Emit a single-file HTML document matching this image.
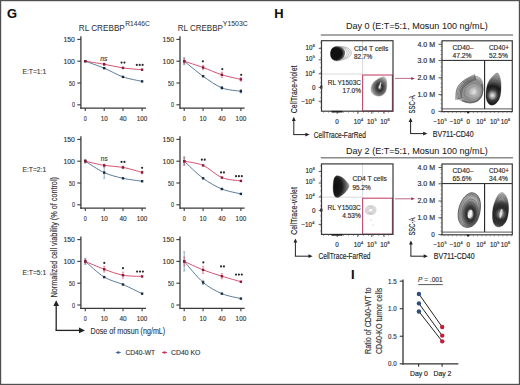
<!DOCTYPE html>
<html><head><meta charset="utf-8"><style>
html,body{margin:0;padding:0;background:#fff;}
body{width:520px;height:385px;overflow:hidden;}
svg{display:block;font-family:"Liberation Sans", sans-serif;}
</style></head><body>
<svg width="520" height="385" viewBox="0 0 520 385">
<rect x="0" y="0" width="520" height="385" fill="#fff"/>
<text x="7.00" y="17.60" font-size="12.9" text-anchor="start" fill="#111" stroke="#111" stroke-width="0.12" font-weight="bold" >G</text>
<text x="78.80" y="30.70" font-size="9.4" text-anchor="start" fill="#333" stroke="#333" stroke-width="0.05" font-weight="normal" textLength="46.00" lengthAdjust="spacingAndGlyphs" >RL CREBBP</text>
<text x="125.30" y="26.40" font-size="7.2" text-anchor="start" fill="#333" stroke="#333" stroke-width="0.05" font-weight="normal" textLength="24.50" lengthAdjust="spacingAndGlyphs" >R1446C</text>
<text x="177.80" y="30.50" font-size="9.4" text-anchor="start" fill="#333" stroke="#333" stroke-width="0.05" font-weight="normal" textLength="45.00" lengthAdjust="spacingAndGlyphs" >RL CREBBP</text>
<text x="222.80" y="26.40" font-size="7.2" text-anchor="start" fill="#333" stroke="#333" stroke-width="0.05" font-weight="normal" textLength="25.00" lengthAdjust="spacingAndGlyphs" >Y1503C</text>
<line x1="80.90" y1="36.30" x2="80.90" y2="108.70" stroke="#3a3a3a" stroke-width="1.3" />
<line x1="80.30" y1="108.10" x2="146.00" y2="108.10" stroke="#3a3a3a" stroke-width="1.3" />
<line x1="77.30" y1="104.80" x2="80.90" y2="104.80" stroke="#3a3a3a" stroke-width="1.1" />
<text x="74.90" y="107.30" font-size="7" text-anchor="end" fill="#2e2e2e" stroke="#2e2e2e" stroke-width="0.12" font-weight="normal" textLength="3.00" lengthAdjust="spacingAndGlyphs" >0</text>
<line x1="77.30" y1="83.00" x2="80.90" y2="83.00" stroke="#3a3a3a" stroke-width="1.1" />
<text x="74.90" y="85.50" font-size="7" text-anchor="end" fill="#2e2e2e" stroke="#2e2e2e" stroke-width="0.12" font-weight="normal" textLength="5.90" lengthAdjust="spacingAndGlyphs" >50</text>
<line x1="77.30" y1="61.20" x2="80.90" y2="61.20" stroke="#3a3a3a" stroke-width="1.1" />
<text x="74.90" y="63.70" font-size="7" text-anchor="end" fill="#2e2e2e" stroke="#2e2e2e" stroke-width="0.12" font-weight="normal" textLength="11.40" lengthAdjust="spacingAndGlyphs" >100</text>
<line x1="77.30" y1="39.40" x2="80.90" y2="39.40" stroke="#3a3a3a" stroke-width="1.1" />
<text x="74.90" y="41.90" font-size="7" text-anchor="end" fill="#2e2e2e" stroke="#2e2e2e" stroke-width="0.12" font-weight="normal" textLength="11.40" lengthAdjust="spacingAndGlyphs" >150</text>
<line x1="85.30" y1="108.10" x2="85.30" y2="111.10" stroke="#3a3a3a" stroke-width="1.1" />
<text x="85.30" y="120.80" font-size="7" text-anchor="middle" fill="#2e2e2e" stroke="#2e2e2e" stroke-width="0.12" font-weight="normal" textLength="3.00" lengthAdjust="spacingAndGlyphs" >0</text>
<line x1="104.20" y1="108.10" x2="104.20" y2="111.10" stroke="#3a3a3a" stroke-width="1.1" />
<text x="104.20" y="120.80" font-size="7" text-anchor="middle" fill="#2e2e2e" stroke="#2e2e2e" stroke-width="0.12" font-weight="normal" textLength="7.00" lengthAdjust="spacingAndGlyphs" >10</text>
<line x1="123.00" y1="108.10" x2="123.00" y2="111.10" stroke="#3a3a3a" stroke-width="1.1" />
<text x="123.00" y="120.80" font-size="7" text-anchor="middle" fill="#2e2e2e" stroke="#2e2e2e" stroke-width="0.12" font-weight="normal" textLength="7.20" lengthAdjust="spacingAndGlyphs" >40</text>
<line x1="142.10" y1="108.10" x2="142.10" y2="111.10" stroke="#3a3a3a" stroke-width="1.1" />
<text x="142.10" y="120.80" font-size="7" text-anchor="middle" fill="#2e2e2e" stroke="#2e2e2e" stroke-width="0.12" font-weight="normal" textLength="10.60" lengthAdjust="spacingAndGlyphs" >100</text>
<path d="M85.30,61.20 C88.32,62.32 98.17,65.66 104.20,68.18 C110.23,70.69 116.94,74.78 123.00,76.90 C129.06,79.01 139.04,80.67 142.10,81.39" fill="none" stroke="#3f6688" stroke-width="0.85"/>
<rect x="84.10" y="60.00" width="2.4" height="2.4" fill="#1a2c40"/>
<rect x="103.00" y="66.98" width="2.4" height="2.4" fill="#1a2c40"/>
<rect x="121.80" y="75.70" width="2.4" height="2.4" fill="#1a2c40"/>
<rect x="140.90" y="80.19" width="2.4" height="2.4" fill="#1a2c40"/>
<path d="M85.30,61.20 C88.32,61.69 98.17,63.18 104.20,64.25 C110.23,65.33 116.94,67.04 123.00,67.91 C129.06,68.79 139.04,69.42 142.10,69.70" fill="none" stroke="#cc3358" stroke-width="0.85"/>
<rect x="84.10" y="60.00" width="2.4" height="2.4" fill="#8a1836"/>
<line x1="104.20" y1="62.94" x2="104.20" y2="65.56" stroke="#cc3358" stroke-width="0.8" stroke-opacity="0.7"/>
<line x1="103.10" y1="62.94" x2="105.30" y2="62.94" stroke="#cc3358" stroke-width="0.6" stroke-opacity="0.7"/>
<line x1="103.10" y1="65.56" x2="105.30" y2="65.56" stroke="#cc3358" stroke-width="0.6" stroke-opacity="0.7"/>
<rect x="103.00" y="63.05" width="2.4" height="2.4" fill="#8a1836"/>
<rect x="121.80" y="66.71" width="2.4" height="2.4" fill="#8a1836"/>
<rect x="140.90" y="68.50" width="2.4" height="2.4" fill="#8a1836"/>
<text x="100.30" y="60.50" font-size="7.2" text-anchor="start" fill="#333" stroke="#333" stroke-width="0.12" font-weight="normal" textLength="7.20" lengthAdjust="spacingAndGlyphs" font-style="italic">ns</text>
<circle cx="121.55" cy="62.60" r="1.08" fill="#2a2a2a"/>
<circle cx="124.45" cy="62.60" r="1.08" fill="#2a2a2a"/>
<circle cx="136.80" cy="64.90" r="1.08" fill="#2a2a2a"/>
<circle cx="139.70" cy="64.90" r="1.08" fill="#2a2a2a"/>
<circle cx="142.60" cy="64.90" r="1.08" fill="#2a2a2a"/>
<line x1="180.00" y1="36.30" x2="180.00" y2="108.70" stroke="#3a3a3a" stroke-width="1.3" />
<line x1="179.40" y1="108.10" x2="244.60" y2="108.10" stroke="#3a3a3a" stroke-width="1.3" />
<line x1="176.40" y1="104.80" x2="180.00" y2="104.80" stroke="#3a3a3a" stroke-width="1.1" />
<text x="174.00" y="107.30" font-size="7" text-anchor="end" fill="#2e2e2e" stroke="#2e2e2e" stroke-width="0.12" font-weight="normal" textLength="3.00" lengthAdjust="spacingAndGlyphs" >0</text>
<line x1="176.40" y1="83.00" x2="180.00" y2="83.00" stroke="#3a3a3a" stroke-width="1.1" />
<text x="174.00" y="85.50" font-size="7" text-anchor="end" fill="#2e2e2e" stroke="#2e2e2e" stroke-width="0.12" font-weight="normal" textLength="5.90" lengthAdjust="spacingAndGlyphs" >50</text>
<line x1="176.40" y1="61.20" x2="180.00" y2="61.20" stroke="#3a3a3a" stroke-width="1.1" />
<text x="174.00" y="63.70" font-size="7" text-anchor="end" fill="#2e2e2e" stroke="#2e2e2e" stroke-width="0.12" font-weight="normal" textLength="11.40" lengthAdjust="spacingAndGlyphs" >100</text>
<line x1="176.40" y1="39.40" x2="180.00" y2="39.40" stroke="#3a3a3a" stroke-width="1.1" />
<text x="174.00" y="41.90" font-size="7" text-anchor="end" fill="#2e2e2e" stroke="#2e2e2e" stroke-width="0.12" font-weight="normal" textLength="11.40" lengthAdjust="spacingAndGlyphs" >150</text>
<line x1="184.20" y1="108.10" x2="184.20" y2="111.10" stroke="#3a3a3a" stroke-width="1.1" />
<text x="184.20" y="120.80" font-size="7" text-anchor="middle" fill="#2e2e2e" stroke="#2e2e2e" stroke-width="0.12" font-weight="normal" textLength="3.00" lengthAdjust="spacingAndGlyphs" >0</text>
<line x1="203.10" y1="108.10" x2="203.10" y2="111.10" stroke="#3a3a3a" stroke-width="1.1" />
<text x="203.10" y="120.80" font-size="7" text-anchor="middle" fill="#2e2e2e" stroke="#2e2e2e" stroke-width="0.12" font-weight="normal" textLength="7.00" lengthAdjust="spacingAndGlyphs" >10</text>
<line x1="221.90" y1="108.10" x2="221.90" y2="111.10" stroke="#3a3a3a" stroke-width="1.1" />
<text x="221.90" y="120.80" font-size="7" text-anchor="middle" fill="#2e2e2e" stroke="#2e2e2e" stroke-width="0.12" font-weight="normal" textLength="7.20" lengthAdjust="spacingAndGlyphs" >40</text>
<line x1="240.90" y1="108.10" x2="240.90" y2="111.10" stroke="#3a3a3a" stroke-width="1.1" />
<text x="240.90" y="120.80" font-size="7" text-anchor="middle" fill="#2e2e2e" stroke="#2e2e2e" stroke-width="0.12" font-weight="normal" textLength="10.60" lengthAdjust="spacingAndGlyphs" >100</text>
<path d="M184.20,61.20 C187.22,63.60 197.07,71.93 203.10,76.20 C209.13,80.47 215.85,85.47 221.90,87.88 C227.95,90.30 237.86,90.74 240.90,91.28" fill="none" stroke="#3f6688" stroke-width="0.85"/>
<line x1="184.20" y1="57.71" x2="184.20" y2="64.69" stroke="#3f6688" stroke-width="0.8" stroke-opacity="0.7"/>
<line x1="183.10" y1="57.71" x2="185.30" y2="57.71" stroke="#3f6688" stroke-width="0.6" stroke-opacity="0.7"/>
<line x1="183.10" y1="64.69" x2="185.30" y2="64.69" stroke="#3f6688" stroke-width="0.6" stroke-opacity="0.7"/>
<rect x="183.00" y="60.00" width="2.4" height="2.4" fill="#1a2c40"/>
<rect x="201.90" y="75.00" width="2.4" height="2.4" fill="#1a2c40"/>
<line x1="221.90" y1="86.58" x2="221.90" y2="89.19" stroke="#3f6688" stroke-width="0.8" stroke-opacity="0.7"/>
<line x1="220.80" y1="86.58" x2="223.00" y2="86.58" stroke="#3f6688" stroke-width="0.6" stroke-opacity="0.7"/>
<line x1="220.80" y1="89.19" x2="223.00" y2="89.19" stroke="#3f6688" stroke-width="0.6" stroke-opacity="0.7"/>
<rect x="220.70" y="86.68" width="2.4" height="2.4" fill="#1a2c40"/>
<line x1="240.90" y1="89.54" x2="240.90" y2="93.03" stroke="#3f6688" stroke-width="0.8" stroke-opacity="0.7"/>
<line x1="239.80" y1="89.54" x2="242.00" y2="89.54" stroke="#3f6688" stroke-width="0.6" stroke-opacity="0.7"/>
<line x1="239.80" y1="93.03" x2="242.00" y2="93.03" stroke="#3f6688" stroke-width="0.6" stroke-opacity="0.7"/>
<rect x="239.70" y="90.08" width="2.4" height="2.4" fill="#1a2c40"/>
<path d="M184.20,61.20 C187.22,62.21 197.07,65.35 203.10,67.52 C209.13,69.70 215.85,72.91 221.90,74.80 C227.95,76.70 237.86,78.65 240.90,79.38" fill="none" stroke="#cc3358" stroke-width="0.85"/>
<line x1="184.20" y1="58.58" x2="184.20" y2="63.82" stroke="#cc3358" stroke-width="0.8" stroke-opacity="0.7"/>
<line x1="183.10" y1="58.58" x2="185.30" y2="58.58" stroke="#cc3358" stroke-width="0.6" stroke-opacity="0.7"/>
<line x1="183.10" y1="63.82" x2="185.30" y2="63.82" stroke="#cc3358" stroke-width="0.6" stroke-opacity="0.7"/>
<rect x="183.00" y="60.00" width="2.4" height="2.4" fill="#8a1836"/>
<line x1="203.10" y1="65.34" x2="203.10" y2="69.70" stroke="#cc3358" stroke-width="0.8" stroke-opacity="0.7"/>
<line x1="202.00" y1="65.34" x2="204.20" y2="65.34" stroke="#cc3358" stroke-width="0.6" stroke-opacity="0.7"/>
<line x1="202.00" y1="69.70" x2="204.20" y2="69.70" stroke="#cc3358" stroke-width="0.6" stroke-opacity="0.7"/>
<rect x="201.90" y="66.32" width="2.4" height="2.4" fill="#8a1836"/>
<line x1="221.90" y1="72.19" x2="221.90" y2="77.42" stroke="#cc3358" stroke-width="0.8" stroke-opacity="0.7"/>
<line x1="220.80" y1="72.19" x2="223.00" y2="72.19" stroke="#cc3358" stroke-width="0.6" stroke-opacity="0.7"/>
<line x1="220.80" y1="77.42" x2="223.00" y2="77.42" stroke="#cc3358" stroke-width="0.6" stroke-opacity="0.7"/>
<rect x="220.70" y="73.60" width="2.4" height="2.4" fill="#8a1836"/>
<line x1="240.90" y1="77.64" x2="240.90" y2="81.13" stroke="#cc3358" stroke-width="0.8" stroke-opacity="0.7"/>
<line x1="239.80" y1="77.64" x2="242.00" y2="77.64" stroke="#cc3358" stroke-width="0.6" stroke-opacity="0.7"/>
<line x1="239.80" y1="81.13" x2="242.00" y2="81.13" stroke="#cc3358" stroke-width="0.6" stroke-opacity="0.7"/>
<rect x="239.70" y="78.18" width="2.4" height="2.4" fill="#8a1836"/>
<circle cx="202.90" cy="61.30" r="1.08" fill="#2a2a2a"/>
<circle cx="222.30" cy="69.10" r="1.08" fill="#2a2a2a"/>
<circle cx="241.20" cy="74.80" r="1.08" fill="#2a2a2a"/>
<line x1="80.90" y1="136.30" x2="80.90" y2="208.70" stroke="#3a3a3a" stroke-width="1.3" />
<line x1="80.30" y1="208.10" x2="146.00" y2="208.10" stroke="#3a3a3a" stroke-width="1.3" />
<line x1="77.30" y1="204.80" x2="80.90" y2="204.80" stroke="#3a3a3a" stroke-width="1.1" />
<text x="74.90" y="207.30" font-size="7" text-anchor="end" fill="#2e2e2e" stroke="#2e2e2e" stroke-width="0.12" font-weight="normal" textLength="3.00" lengthAdjust="spacingAndGlyphs" >0</text>
<line x1="77.30" y1="183.00" x2="80.90" y2="183.00" stroke="#3a3a3a" stroke-width="1.1" />
<text x="74.90" y="185.50" font-size="7" text-anchor="end" fill="#2e2e2e" stroke="#2e2e2e" stroke-width="0.12" font-weight="normal" textLength="5.90" lengthAdjust="spacingAndGlyphs" >50</text>
<line x1="77.30" y1="161.20" x2="80.90" y2="161.20" stroke="#3a3a3a" stroke-width="1.1" />
<text x="74.90" y="163.70" font-size="7" text-anchor="end" fill="#2e2e2e" stroke="#2e2e2e" stroke-width="0.12" font-weight="normal" textLength="11.40" lengthAdjust="spacingAndGlyphs" >100</text>
<line x1="77.30" y1="139.40" x2="80.90" y2="139.40" stroke="#3a3a3a" stroke-width="1.1" />
<text x="74.90" y="141.90" font-size="7" text-anchor="end" fill="#2e2e2e" stroke="#2e2e2e" stroke-width="0.12" font-weight="normal" textLength="11.40" lengthAdjust="spacingAndGlyphs" >150</text>
<line x1="85.30" y1="208.10" x2="85.30" y2="211.10" stroke="#3a3a3a" stroke-width="1.1" />
<text x="85.30" y="220.80" font-size="7" text-anchor="middle" fill="#2e2e2e" stroke="#2e2e2e" stroke-width="0.12" font-weight="normal" textLength="3.00" lengthAdjust="spacingAndGlyphs" >0</text>
<line x1="104.20" y1="208.10" x2="104.20" y2="211.10" stroke="#3a3a3a" stroke-width="1.1" />
<text x="104.20" y="220.80" font-size="7" text-anchor="middle" fill="#2e2e2e" stroke="#2e2e2e" stroke-width="0.12" font-weight="normal" textLength="7.00" lengthAdjust="spacingAndGlyphs" >10</text>
<line x1="123.00" y1="208.10" x2="123.00" y2="211.10" stroke="#3a3a3a" stroke-width="1.1" />
<text x="123.00" y="220.80" font-size="7" text-anchor="middle" fill="#2e2e2e" stroke="#2e2e2e" stroke-width="0.12" font-weight="normal" textLength="7.20" lengthAdjust="spacingAndGlyphs" >40</text>
<line x1="142.10" y1="208.10" x2="142.10" y2="211.10" stroke="#3a3a3a" stroke-width="1.1" />
<text x="142.10" y="220.80" font-size="7" text-anchor="middle" fill="#2e2e2e" stroke="#2e2e2e" stroke-width="0.12" font-weight="normal" textLength="10.60" lengthAdjust="spacingAndGlyphs" >100</text>
<path d="M85.30,161.20 C88.32,163.03 98.17,169.89 104.20,172.62 C110.23,175.36 116.94,176.92 123.00,178.29 C129.06,179.67 139.04,180.75 142.10,181.21" fill="none" stroke="#3f6688" stroke-width="0.85"/>
<line x1="85.30" y1="159.46" x2="85.30" y2="162.94" stroke="#3f6688" stroke-width="0.8" stroke-opacity="0.7"/>
<line x1="84.20" y1="159.46" x2="86.40" y2="159.46" stroke="#3f6688" stroke-width="0.6" stroke-opacity="0.7"/>
<line x1="84.20" y1="162.94" x2="86.40" y2="162.94" stroke="#3f6688" stroke-width="0.6" stroke-opacity="0.7"/>
<rect x="84.10" y="160.00" width="2.4" height="2.4" fill="#1a2c40"/>
<line x1="104.20" y1="166.96" x2="104.20" y2="178.29" stroke="#3f6688" stroke-width="0.8" stroke-opacity="0.7"/>
<line x1="103.10" y1="166.96" x2="105.30" y2="166.96" stroke="#3f6688" stroke-width="0.6" stroke-opacity="0.7"/>
<line x1="103.10" y1="178.29" x2="105.30" y2="178.29" stroke="#3f6688" stroke-width="0.6" stroke-opacity="0.7"/>
<rect x="103.00" y="171.42" width="2.4" height="2.4" fill="#1a2c40"/>
<rect x="121.80" y="177.09" width="2.4" height="2.4" fill="#1a2c40"/>
<rect x="140.90" y="180.01" width="2.4" height="2.4" fill="#1a2c40"/>
<path d="M85.30,161.20 C88.32,161.87 98.17,164.40 104.20,165.39 C110.23,166.38 116.94,166.27 123.00,167.39 C129.06,168.51 139.04,171.60 142.10,172.41" fill="none" stroke="#cc3358" stroke-width="0.85"/>
<line x1="85.30" y1="159.46" x2="85.30" y2="162.94" stroke="#cc3358" stroke-width="0.8" stroke-opacity="0.7"/>
<line x1="84.20" y1="159.46" x2="86.40" y2="159.46" stroke="#cc3358" stroke-width="0.6" stroke-opacity="0.7"/>
<line x1="84.20" y1="162.94" x2="86.40" y2="162.94" stroke="#cc3358" stroke-width="0.6" stroke-opacity="0.7"/>
<rect x="84.10" y="160.00" width="2.4" height="2.4" fill="#8a1836"/>
<line x1="104.20" y1="164.08" x2="104.20" y2="166.69" stroke="#cc3358" stroke-width="0.8" stroke-opacity="0.7"/>
<line x1="103.10" y1="164.08" x2="105.30" y2="164.08" stroke="#cc3358" stroke-width="0.6" stroke-opacity="0.7"/>
<line x1="103.10" y1="166.69" x2="105.30" y2="166.69" stroke="#cc3358" stroke-width="0.6" stroke-opacity="0.7"/>
<rect x="103.00" y="164.19" width="2.4" height="2.4" fill="#8a1836"/>
<line x1="123.00" y1="166.08" x2="123.00" y2="168.70" stroke="#cc3358" stroke-width="0.8" stroke-opacity="0.7"/>
<line x1="121.90" y1="166.08" x2="124.10" y2="166.08" stroke="#cc3358" stroke-width="0.6" stroke-opacity="0.7"/>
<line x1="121.90" y1="168.70" x2="124.10" y2="168.70" stroke="#cc3358" stroke-width="0.6" stroke-opacity="0.7"/>
<rect x="121.80" y="166.19" width="2.4" height="2.4" fill="#8a1836"/>
<line x1="142.10" y1="171.10" x2="142.10" y2="173.71" stroke="#cc3358" stroke-width="0.8" stroke-opacity="0.7"/>
<line x1="141.00" y1="171.10" x2="143.20" y2="171.10" stroke="#cc3358" stroke-width="0.6" stroke-opacity="0.7"/>
<line x1="141.00" y1="173.71" x2="143.20" y2="173.71" stroke="#cc3358" stroke-width="0.6" stroke-opacity="0.7"/>
<rect x="140.90" y="171.21" width="2.4" height="2.4" fill="#8a1836"/>
<text x="100.80" y="160.80" font-size="7.2" text-anchor="start" fill="#333" stroke="#333" stroke-width="0.12" font-weight="normal" textLength="6.90" lengthAdjust="spacingAndGlyphs" >ns</text>
<circle cx="121.55" cy="161.90" r="1.08" fill="#2a2a2a"/>
<circle cx="124.45" cy="161.90" r="1.08" fill="#2a2a2a"/>
<circle cx="142.10" cy="167.80" r="1.08" fill="#2a2a2a"/>
<line x1="180.00" y1="136.30" x2="180.00" y2="208.70" stroke="#3a3a3a" stroke-width="1.3" />
<line x1="179.40" y1="208.10" x2="244.60" y2="208.10" stroke="#3a3a3a" stroke-width="1.3" />
<line x1="176.40" y1="204.80" x2="180.00" y2="204.80" stroke="#3a3a3a" stroke-width="1.1" />
<text x="174.00" y="207.30" font-size="7" text-anchor="end" fill="#2e2e2e" stroke="#2e2e2e" stroke-width="0.12" font-weight="normal" textLength="3.00" lengthAdjust="spacingAndGlyphs" >0</text>
<line x1="176.40" y1="183.00" x2="180.00" y2="183.00" stroke="#3a3a3a" stroke-width="1.1" />
<text x="174.00" y="185.50" font-size="7" text-anchor="end" fill="#2e2e2e" stroke="#2e2e2e" stroke-width="0.12" font-weight="normal" textLength="5.90" lengthAdjust="spacingAndGlyphs" >50</text>
<line x1="176.40" y1="161.20" x2="180.00" y2="161.20" stroke="#3a3a3a" stroke-width="1.1" />
<text x="174.00" y="163.70" font-size="7" text-anchor="end" fill="#2e2e2e" stroke="#2e2e2e" stroke-width="0.12" font-weight="normal" textLength="11.40" lengthAdjust="spacingAndGlyphs" >100</text>
<line x1="176.40" y1="139.40" x2="180.00" y2="139.40" stroke="#3a3a3a" stroke-width="1.1" />
<text x="174.00" y="141.90" font-size="7" text-anchor="end" fill="#2e2e2e" stroke="#2e2e2e" stroke-width="0.12" font-weight="normal" textLength="11.40" lengthAdjust="spacingAndGlyphs" >150</text>
<line x1="184.20" y1="208.10" x2="184.20" y2="211.10" stroke="#3a3a3a" stroke-width="1.1" />
<text x="184.20" y="220.80" font-size="7" text-anchor="middle" fill="#2e2e2e" stroke="#2e2e2e" stroke-width="0.12" font-weight="normal" textLength="3.00" lengthAdjust="spacingAndGlyphs" >0</text>
<line x1="203.10" y1="208.10" x2="203.10" y2="211.10" stroke="#3a3a3a" stroke-width="1.1" />
<text x="203.10" y="220.80" font-size="7" text-anchor="middle" fill="#2e2e2e" stroke="#2e2e2e" stroke-width="0.12" font-weight="normal" textLength="7.00" lengthAdjust="spacingAndGlyphs" >10</text>
<line x1="221.90" y1="208.10" x2="221.90" y2="211.10" stroke="#3a3a3a" stroke-width="1.1" />
<text x="221.90" y="220.80" font-size="7" text-anchor="middle" fill="#2e2e2e" stroke="#2e2e2e" stroke-width="0.12" font-weight="normal" textLength="7.20" lengthAdjust="spacingAndGlyphs" >40</text>
<line x1="240.90" y1="208.10" x2="240.90" y2="211.10" stroke="#3a3a3a" stroke-width="1.1" />
<text x="240.90" y="220.80" font-size="7" text-anchor="middle" fill="#2e2e2e" stroke="#2e2e2e" stroke-width="0.12" font-weight="normal" textLength="10.60" lengthAdjust="spacingAndGlyphs" >100</text>
<path d="M184.20,161.20 C187.22,163.93 197.07,173.84 203.10,178.29 C209.13,182.74 215.85,186.52 221.90,189.02 C227.95,191.51 237.86,193.12 240.90,193.90" fill="none" stroke="#3f6688" stroke-width="0.85"/>
<line x1="184.20" y1="156.84" x2="184.20" y2="165.56" stroke="#3f6688" stroke-width="0.8" stroke-opacity="0.7"/>
<line x1="183.10" y1="156.84" x2="185.30" y2="156.84" stroke="#3f6688" stroke-width="0.6" stroke-opacity="0.7"/>
<line x1="183.10" y1="165.56" x2="185.30" y2="165.56" stroke="#3f6688" stroke-width="0.6" stroke-opacity="0.7"/>
<rect x="183.00" y="160.00" width="2.4" height="2.4" fill="#1a2c40"/>
<rect x="201.90" y="177.09" width="2.4" height="2.4" fill="#1a2c40"/>
<rect x="220.70" y="187.82" width="2.4" height="2.4" fill="#1a2c40"/>
<rect x="239.70" y="192.70" width="2.4" height="2.4" fill="#1a2c40"/>
<path d="M184.20,161.20 C187.22,161.87 197.07,162.76 203.10,165.39 C209.13,168.01 215.85,175.11 221.90,177.59 C227.95,180.08 237.86,180.38 240.90,180.91" fill="none" stroke="#cc3358" stroke-width="0.85"/>
<line x1="184.20" y1="157.71" x2="184.20" y2="164.69" stroke="#cc3358" stroke-width="0.8" stroke-opacity="0.7"/>
<line x1="183.10" y1="157.71" x2="185.30" y2="157.71" stroke="#cc3358" stroke-width="0.6" stroke-opacity="0.7"/>
<line x1="183.10" y1="164.69" x2="185.30" y2="164.69" stroke="#cc3358" stroke-width="0.6" stroke-opacity="0.7"/>
<rect x="183.00" y="160.00" width="2.4" height="2.4" fill="#8a1836"/>
<rect x="201.90" y="164.19" width="2.4" height="2.4" fill="#8a1836"/>
<rect x="220.70" y="176.39" width="2.4" height="2.4" fill="#8a1836"/>
<rect x="239.70" y="179.71" width="2.4" height="2.4" fill="#8a1836"/>
<circle cx="201.85" cy="159.70" r="1.08" fill="#2a2a2a"/>
<circle cx="204.75" cy="159.70" r="1.08" fill="#2a2a2a"/>
<circle cx="221.05" cy="172.40" r="1.08" fill="#2a2a2a"/>
<circle cx="223.95" cy="172.40" r="1.08" fill="#2a2a2a"/>
<circle cx="236.00" cy="176.20" r="1.08" fill="#2a2a2a"/>
<circle cx="238.90" cy="176.20" r="1.08" fill="#2a2a2a"/>
<circle cx="241.80" cy="176.20" r="1.08" fill="#2a2a2a"/>
<line x1="80.90" y1="236.50" x2="80.90" y2="308.90" stroke="#3a3a3a" stroke-width="1.3" />
<line x1="80.30" y1="308.30" x2="146.00" y2="308.30" stroke="#3a3a3a" stroke-width="1.3" />
<line x1="77.30" y1="305.00" x2="80.90" y2="305.00" stroke="#3a3a3a" stroke-width="1.1" />
<text x="74.90" y="307.50" font-size="7" text-anchor="end" fill="#2e2e2e" stroke="#2e2e2e" stroke-width="0.12" font-weight="normal" textLength="3.00" lengthAdjust="spacingAndGlyphs" >0</text>
<line x1="77.30" y1="283.20" x2="80.90" y2="283.20" stroke="#3a3a3a" stroke-width="1.1" />
<text x="74.90" y="285.70" font-size="7" text-anchor="end" fill="#2e2e2e" stroke="#2e2e2e" stroke-width="0.12" font-weight="normal" textLength="5.90" lengthAdjust="spacingAndGlyphs" >50</text>
<line x1="77.30" y1="261.40" x2="80.90" y2="261.40" stroke="#3a3a3a" stroke-width="1.1" />
<text x="74.90" y="263.90" font-size="7" text-anchor="end" fill="#2e2e2e" stroke="#2e2e2e" stroke-width="0.12" font-weight="normal" textLength="11.40" lengthAdjust="spacingAndGlyphs" >100</text>
<line x1="77.30" y1="239.60" x2="80.90" y2="239.60" stroke="#3a3a3a" stroke-width="1.1" />
<text x="74.90" y="242.10" font-size="7" text-anchor="end" fill="#2e2e2e" stroke="#2e2e2e" stroke-width="0.12" font-weight="normal" textLength="11.40" lengthAdjust="spacingAndGlyphs" >150</text>
<line x1="85.30" y1="308.30" x2="85.30" y2="311.30" stroke="#3a3a3a" stroke-width="1.1" />
<text x="85.30" y="321.00" font-size="7" text-anchor="middle" fill="#2e2e2e" stroke="#2e2e2e" stroke-width="0.12" font-weight="normal" textLength="3.00" lengthAdjust="spacingAndGlyphs" >0</text>
<line x1="104.20" y1="308.30" x2="104.20" y2="311.30" stroke="#3a3a3a" stroke-width="1.1" />
<text x="104.20" y="321.00" font-size="7" text-anchor="middle" fill="#2e2e2e" stroke="#2e2e2e" stroke-width="0.12" font-weight="normal" textLength="7.00" lengthAdjust="spacingAndGlyphs" >10</text>
<line x1="123.00" y1="308.30" x2="123.00" y2="311.30" stroke="#3a3a3a" stroke-width="1.1" />
<text x="123.00" y="321.00" font-size="7" text-anchor="middle" fill="#2e2e2e" stroke="#2e2e2e" stroke-width="0.12" font-weight="normal" textLength="7.20" lengthAdjust="spacingAndGlyphs" >40</text>
<line x1="142.10" y1="308.30" x2="142.10" y2="311.30" stroke="#3a3a3a" stroke-width="1.1" />
<text x="142.10" y="321.00" font-size="7" text-anchor="middle" fill="#2e2e2e" stroke="#2e2e2e" stroke-width="0.12" font-weight="normal" textLength="10.60" lengthAdjust="spacingAndGlyphs" >100</text>
<path d="M85.30,261.40 C88.32,263.91 98.17,273.40 104.20,277.10 C110.23,280.79 116.94,281.86 123.00,284.51 C129.06,287.16 139.04,292.20 142.10,293.66" fill="none" stroke="#3f6688" stroke-width="0.85"/>
<line x1="85.30" y1="258.35" x2="85.30" y2="264.45" stroke="#3f6688" stroke-width="0.8" stroke-opacity="0.7"/>
<line x1="84.20" y1="258.35" x2="86.40" y2="258.35" stroke="#3f6688" stroke-width="0.6" stroke-opacity="0.7"/>
<line x1="84.20" y1="264.45" x2="86.40" y2="264.45" stroke="#3f6688" stroke-width="0.6" stroke-opacity="0.7"/>
<rect x="84.10" y="260.20" width="2.4" height="2.4" fill="#1a2c40"/>
<rect x="103.00" y="275.90" width="2.4" height="2.4" fill="#1a2c40"/>
<rect x="121.80" y="283.31" width="2.4" height="2.4" fill="#1a2c40"/>
<rect x="140.90" y="292.46" width="2.4" height="2.4" fill="#1a2c40"/>
<path d="M85.30,261.40 C88.32,262.66 98.17,267.04 104.20,269.25 C110.23,271.46 116.94,274.07 123.00,275.22 C129.06,276.37 139.04,276.25 142.10,276.44" fill="none" stroke="#cc3358" stroke-width="0.85"/>
<line x1="85.30" y1="259.22" x2="85.30" y2="263.58" stroke="#cc3358" stroke-width="0.8" stroke-opacity="0.7"/>
<line x1="84.20" y1="259.22" x2="86.40" y2="259.22" stroke="#cc3358" stroke-width="0.6" stroke-opacity="0.7"/>
<line x1="84.20" y1="263.58" x2="86.40" y2="263.58" stroke="#cc3358" stroke-width="0.6" stroke-opacity="0.7"/>
<rect x="84.10" y="260.20" width="2.4" height="2.4" fill="#8a1836"/>
<line x1="104.20" y1="266.41" x2="104.20" y2="272.08" stroke="#cc3358" stroke-width="0.8" stroke-opacity="0.7"/>
<line x1="103.10" y1="266.41" x2="105.30" y2="266.41" stroke="#cc3358" stroke-width="0.6" stroke-opacity="0.7"/>
<line x1="103.10" y1="272.08" x2="105.30" y2="272.08" stroke="#cc3358" stroke-width="0.6" stroke-opacity="0.7"/>
<rect x="103.00" y="268.05" width="2.4" height="2.4" fill="#8a1836"/>
<line x1="123.00" y1="272.17" x2="123.00" y2="278.27" stroke="#cc3358" stroke-width="0.8" stroke-opacity="0.7"/>
<line x1="121.90" y1="272.17" x2="124.10" y2="272.17" stroke="#cc3358" stroke-width="0.6" stroke-opacity="0.7"/>
<line x1="121.90" y1="278.27" x2="124.10" y2="278.27" stroke="#cc3358" stroke-width="0.6" stroke-opacity="0.7"/>
<rect x="121.80" y="274.02" width="2.4" height="2.4" fill="#8a1836"/>
<rect x="140.90" y="275.24" width="2.4" height="2.4" fill="#8a1836"/>
<circle cx="104.30" cy="262.90" r="1.08" fill="#2a2a2a"/>
<circle cx="123.00" cy="268.20" r="1.08" fill="#2a2a2a"/>
<circle cx="137.10" cy="271.60" r="1.08" fill="#2a2a2a"/>
<circle cx="140.00" cy="271.60" r="1.08" fill="#2a2a2a"/>
<circle cx="142.90" cy="271.60" r="1.08" fill="#2a2a2a"/>
<line x1="180.00" y1="236.50" x2="180.00" y2="308.90" stroke="#3a3a3a" stroke-width="1.3" />
<line x1="179.40" y1="308.30" x2="244.60" y2="308.30" stroke="#3a3a3a" stroke-width="1.3" />
<line x1="176.40" y1="305.00" x2="180.00" y2="305.00" stroke="#3a3a3a" stroke-width="1.1" />
<text x="174.00" y="307.50" font-size="7" text-anchor="end" fill="#2e2e2e" stroke="#2e2e2e" stroke-width="0.12" font-weight="normal" textLength="3.00" lengthAdjust="spacingAndGlyphs" >0</text>
<line x1="176.40" y1="283.20" x2="180.00" y2="283.20" stroke="#3a3a3a" stroke-width="1.1" />
<text x="174.00" y="285.70" font-size="7" text-anchor="end" fill="#2e2e2e" stroke="#2e2e2e" stroke-width="0.12" font-weight="normal" textLength="5.90" lengthAdjust="spacingAndGlyphs" >50</text>
<line x1="176.40" y1="261.40" x2="180.00" y2="261.40" stroke="#3a3a3a" stroke-width="1.1" />
<text x="174.00" y="263.90" font-size="7" text-anchor="end" fill="#2e2e2e" stroke="#2e2e2e" stroke-width="0.12" font-weight="normal" textLength="11.40" lengthAdjust="spacingAndGlyphs" >100</text>
<line x1="176.40" y1="239.60" x2="180.00" y2="239.60" stroke="#3a3a3a" stroke-width="1.1" />
<text x="174.00" y="242.10" font-size="7" text-anchor="end" fill="#2e2e2e" stroke="#2e2e2e" stroke-width="0.12" font-weight="normal" textLength="11.40" lengthAdjust="spacingAndGlyphs" >150</text>
<line x1="184.20" y1="308.30" x2="184.20" y2="311.30" stroke="#3a3a3a" stroke-width="1.1" />
<text x="184.20" y="321.00" font-size="7" text-anchor="middle" fill="#2e2e2e" stroke="#2e2e2e" stroke-width="0.12" font-weight="normal" textLength="3.00" lengthAdjust="spacingAndGlyphs" >0</text>
<line x1="203.10" y1="308.30" x2="203.10" y2="311.30" stroke="#3a3a3a" stroke-width="1.1" />
<text x="203.10" y="321.00" font-size="7" text-anchor="middle" fill="#2e2e2e" stroke="#2e2e2e" stroke-width="0.12" font-weight="normal" textLength="7.00" lengthAdjust="spacingAndGlyphs" >10</text>
<line x1="221.90" y1="308.30" x2="221.90" y2="311.30" stroke="#3a3a3a" stroke-width="1.1" />
<text x="221.90" y="321.00" font-size="7" text-anchor="middle" fill="#2e2e2e" stroke="#2e2e2e" stroke-width="0.12" font-weight="normal" textLength="7.20" lengthAdjust="spacingAndGlyphs" >40</text>
<line x1="240.90" y1="308.30" x2="240.90" y2="311.30" stroke="#3a3a3a" stroke-width="1.1" />
<text x="240.90" y="321.00" font-size="7" text-anchor="middle" fill="#2e2e2e" stroke="#2e2e2e" stroke-width="0.12" font-weight="normal" textLength="10.60" lengthAdjust="spacingAndGlyphs" >100</text>
<path d="M184.20,261.40 C187.22,264.76 197.07,277.25 203.10,282.42 C209.13,287.58 215.85,291.08 221.90,293.66 C227.95,296.25 237.86,297.80 240.90,298.59" fill="none" stroke="#3f6688" stroke-width="0.85"/>
<line x1="184.20" y1="251.81" x2="184.20" y2="270.99" stroke="#3f6688" stroke-width="0.8" stroke-opacity="0.7"/>
<line x1="183.10" y1="251.81" x2="185.30" y2="251.81" stroke="#3f6688" stroke-width="0.6" stroke-opacity="0.7"/>
<line x1="183.10" y1="270.99" x2="185.30" y2="270.99" stroke="#3f6688" stroke-width="0.6" stroke-opacity="0.7"/>
<rect x="183.00" y="260.20" width="2.4" height="2.4" fill="#1a2c40"/>
<line x1="203.10" y1="280.24" x2="203.10" y2="284.60" stroke="#3f6688" stroke-width="0.8" stroke-opacity="0.7"/>
<line x1="202.00" y1="280.24" x2="204.20" y2="280.24" stroke="#3f6688" stroke-width="0.6" stroke-opacity="0.7"/>
<line x1="202.00" y1="284.60" x2="204.20" y2="284.60" stroke="#3f6688" stroke-width="0.6" stroke-opacity="0.7"/>
<rect x="201.90" y="281.22" width="2.4" height="2.4" fill="#1a2c40"/>
<rect x="220.70" y="292.46" width="2.4" height="2.4" fill="#1a2c40"/>
<rect x="239.70" y="297.39" width="2.4" height="2.4" fill="#1a2c40"/>
<path d="M184.20,261.40 C187.22,262.76 197.07,267.53 203.10,269.90 C209.13,272.27 215.85,274.33 221.90,276.22 C227.95,278.11 237.86,280.84 240.90,281.72" fill="none" stroke="#cc3358" stroke-width="0.85"/>
<line x1="184.20" y1="257.04" x2="184.20" y2="265.76" stroke="#cc3358" stroke-width="0.8" stroke-opacity="0.7"/>
<line x1="183.10" y1="257.04" x2="185.30" y2="257.04" stroke="#cc3358" stroke-width="0.6" stroke-opacity="0.7"/>
<line x1="183.10" y1="265.76" x2="185.30" y2="265.76" stroke="#cc3358" stroke-width="0.6" stroke-opacity="0.7"/>
<rect x="183.00" y="260.20" width="2.4" height="2.4" fill="#8a1836"/>
<line x1="203.10" y1="266.41" x2="203.10" y2="273.39" stroke="#cc3358" stroke-width="0.8" stroke-opacity="0.7"/>
<line x1="202.00" y1="266.41" x2="204.20" y2="266.41" stroke="#cc3358" stroke-width="0.6" stroke-opacity="0.7"/>
<line x1="202.00" y1="273.39" x2="204.20" y2="273.39" stroke="#cc3358" stroke-width="0.6" stroke-opacity="0.7"/>
<rect x="201.90" y="268.70" width="2.4" height="2.4" fill="#8a1836"/>
<line x1="221.90" y1="273.61" x2="221.90" y2="278.84" stroke="#cc3358" stroke-width="0.8" stroke-opacity="0.7"/>
<line x1="220.80" y1="273.61" x2="223.00" y2="273.61" stroke="#cc3358" stroke-width="0.6" stroke-opacity="0.7"/>
<line x1="220.80" y1="278.84" x2="223.00" y2="278.84" stroke="#cc3358" stroke-width="0.6" stroke-opacity="0.7"/>
<rect x="220.70" y="275.02" width="2.4" height="2.4" fill="#8a1836"/>
<rect x="239.70" y="280.52" width="2.4" height="2.4" fill="#8a1836"/>
<circle cx="203.30" cy="262.40" r="1.08" fill="#2a2a2a"/>
<circle cx="221.05" cy="266.40" r="1.08" fill="#2a2a2a"/>
<circle cx="223.95" cy="266.40" r="1.08" fill="#2a2a2a"/>
<circle cx="236.00" cy="274.60" r="1.08" fill="#2a2a2a"/>
<circle cx="238.90" cy="274.60" r="1.08" fill="#2a2a2a"/>
<circle cx="241.80" cy="274.60" r="1.08" fill="#2a2a2a"/>
<text x="22.40" y="73.80" font-size="6.9" text-anchor="start" fill="#333" stroke="#333" stroke-width="0.1" font-weight="normal" textLength="23.80" lengthAdjust="spacingAndGlyphs" >E:T=1:1</text>
<text x="22.40" y="171.80" font-size="6.9" text-anchor="start" fill="#333" stroke="#333" stroke-width="0.1" font-weight="normal" textLength="23.80" lengthAdjust="spacingAndGlyphs" >E:T=2:1</text>
<text x="22.40" y="274.50" font-size="6.9" text-anchor="start" fill="#333" stroke="#333" stroke-width="0.1" font-weight="normal" textLength="23.80" lengthAdjust="spacingAndGlyphs" >E:T=5:1</text>
<text transform="translate(57.3,297.4) rotate(-90)" font-size="9.0" fill="#333" stroke="#333" stroke-width="0.15" textLength="120.3" lengthAdjust="spacingAndGlyphs">Normalized cell viability (% of control)</text>
<line x1="56.20" y1="303.50" x2="56.20" y2="330.40" stroke="#222" stroke-width="1.3" />
<line x1="55.60" y1="330.40" x2="81.50" y2="330.40" stroke="#222" stroke-width="1.3" />
<path d="M56.2,300.3 L53.3,306 L59.1,306 Z" fill="#222"/>
<path d="M85,330.4 L79,327.5 L79,333.3 Z" fill="#222"/>
<text x="90.60" y="333.70" font-size="9" text-anchor="start" fill="#333" stroke="#333" stroke-width="0.12" font-weight="normal" textLength="74.60" lengthAdjust="spacingAndGlyphs" >Dose of mosun (ng/mL)</text>
<line x1="115.80" y1="352.50" x2="120.80" y2="352.50" stroke="#2f5f8f" stroke-width="0.8" />
<rect x="117.2" y="351.4" width="2.2" height="2.2" fill="#2f5f8f"/>
<text x="125.50" y="354.50" font-size="6.8" text-anchor="start" fill="#333" stroke="#333" stroke-width="0.12" font-weight="normal" textLength="29.60" lengthAdjust="spacingAndGlyphs" >CD40-WT</text>
<line x1="162.00" y1="352.50" x2="167.00" y2="352.50" stroke="#c8284c" stroke-width="0.8" />
<rect x="163.4" y="351.4" width="2.2" height="2.2" fill="#c8284c"/>
<text x="171.00" y="354.50" font-size="6.8" text-anchor="start" fill="#333" stroke="#333" stroke-width="0.12" font-weight="normal" textLength="29.40" lengthAdjust="spacingAndGlyphs" >CD40 KO</text>
<text x="274.3" y="17.6" font-size="12.9" font-weight="bold" fill="#111" stroke="#111" stroke-width="0.12">H</text>
<defs><radialGradient id="gcd4" cx="0.3" cy="0.5" r="0.75"><stop offset="0" stop-color="#111"/><stop offset="0.55" stop-color="#1a1a1a"/><stop offset="0.8" stop-color="#555"/><stop offset="1" stop-color="#999"/></radialGradient><radialGradient id="glb" gradientUnits="userSpaceOnUse" cx="474" cy="92" r="16" fx="474" fy="92"><stop offset="0" stop-color="#e4e4e4"/><stop offset="0.3" stop-color="#b0b0b0"/><stop offset="0.6" stop-color="#8c8c8c"/><stop offset="0.8" stop-color="#999"/><stop offset="1" stop-color="#c8c8c8"/></radialGradient><radialGradient id="grb" gradientUnits="userSpaceOnUse" cx="492.6" cy="95" r="19" fx="492.4" fy="95.5"><stop offset="0" stop-color="#eee"/><stop offset="0.12" stop-color="#aaa"/><stop offset="0.3" stop-color="#3a3a3a"/><stop offset="0.48" stop-color="#1a1a1a"/><stop offset="0.7" stop-color="#5a5a5a"/><stop offset="1" stop-color="#9a9a9a"/></radialGradient><radialGradient id="grl" cx="0.55" cy="0.55" r="0.55"><stop offset="0" stop-color="#f0f0f0"/><stop offset="0.1" stop-color="#999"/><stop offset="0.28" stop-color="#2a2a2a"/><stop offset="0.5" stop-color="#5a5a5a"/><stop offset="0.75" stop-color="#8a8a8a"/><stop offset="1" stop-color="#c0c0c0"/></radialGradient><radialGradient id="gcd4b" cx="0.15" cy="0.5" r="0.9"><stop offset="0" stop-color="#0d0d0d"/><stop offset="0.45" stop-color="#1a1a1a"/><stop offset="0.75" stop-color="#666"/><stop offset="1" stop-color="#aaa"/></radialGradient><radialGradient id="gl2" cx="0.55" cy="0.62" r="0.55"><stop offset="0" stop-color="#f2f2f2"/><stop offset="0.15" stop-color="#bbb"/><stop offset="0.32" stop-color="#2a2a2a"/><stop offset="0.5" stop-color="#555"/><stop offset="0.75" stop-color="#999"/><stop offset="0.95" stop-color="#b8b8b8"/><stop offset="1" stop-color="#999"/></radialGradient><radialGradient id="gr2" gradientUnits="userSpaceOnUse" cx="501" cy="214" r="21"><stop offset="0" stop-color="#d0d0d0"/><stop offset="0.12" stop-color="#777"/><stop offset="0.3" stop-color="#2a2a2a"/><stop offset="0.5" stop-color="#3a3a3a"/><stop offset="0.7" stop-color="#8a8a8a"/><stop offset="1" stop-color="#c0c0c0"/></radialGradient><clipPath id="cpul"><polygon points="450,70 480,70 480,74 457,103 450,106"/></clipPath><clipPath id="cpa0"><rect x="321.3" y="40.6" width="71.7" height="70.6"/></clipPath></defs>
<text x="346.00" y="29.20" font-size="9.2" text-anchor="start" fill="#222" stroke="#222" stroke-width="0.05" font-weight="normal" textLength="141.70" lengthAdjust="spacingAndGlyphs" >Day 0 (E:T=5:1, Mosun 100 ng/mL)</text>
<line x1="320.80" y1="35.00" x2="513.00" y2="35.00" stroke="#8a8a8a" stroke-width="1.6" />
<line x1="321.50" y1="74.00" x2="362.60" y2="74.00" stroke="#cfcfcf" stroke-width="0.8" />
<line x1="362.60" y1="40.70" x2="362.60" y2="74.00" stroke="#cfcfcf" stroke-width="0.8" />
<path d="M330.60,53.50 C330.68,51.75 331.43,49.48 332.50,48.30 C333.57,47.12 335.25,46.67 337.00,46.40 C338.75,46.13 341.20,46.42 343.00,46.70 C344.80,46.98 346.53,47.47 347.80,48.10 C349.07,48.73 350.03,49.65 350.60,50.50 C351.17,51.35 351.33,52.25 351.20,53.20 C351.07,54.15 350.83,55.23 349.80,56.20 C348.77,57.17 347.13,58.22 345.00,59.00 C342.87,59.78 339.17,60.93 337.00,60.90 C334.83,60.87 333.07,60.03 332.00,58.80 C330.93,57.57 330.52,55.25 330.60,53.50Z" fill="none" fill-opacity="0" stroke="#3a3a3a" stroke-opacity="0.75" stroke-width="0.45"/>
<path d="M330.64,53.50 C330.72,51.92 331.39,49.88 332.35,48.82 C333.31,47.76 334.82,47.35 336.40,47.11 C337.97,46.87 340.18,47.12 341.80,47.38 C343.42,47.64 344.98,48.07 346.12,48.64 C347.26,49.21 348.13,50.03 348.64,50.80 C349.15,51.56 349.30,52.38 349.18,53.23 C349.06,54.09 348.85,55.06 347.92,55.93 C346.99,56.80 345.52,57.75 343.60,58.45 C341.68,59.16 338.35,60.19 336.40,60.16 C334.45,60.13 332.86,59.38 331.90,58.27 C330.94,57.16 330.57,55.08 330.64,53.50Z" fill="none" fill-opacity="0" stroke="#3a3a3a" stroke-opacity="0.75" stroke-width="0.45"/>
<path d="M330.68,53.50 C330.75,52.10 331.35,50.29 332.20,49.34 C333.05,48.39 334.40,48.03 335.80,47.82 C337.20,47.61 339.16,47.83 340.60,48.06 C342.04,48.29 343.43,48.67 344.44,49.18 C345.45,49.69 346.23,50.42 346.68,51.10 C347.13,51.78 347.27,52.50 347.16,53.26 C347.05,54.02 346.87,54.89 346.04,55.66 C345.21,56.43 343.91,57.27 342.20,57.90 C340.49,58.53 337.53,59.45 335.80,59.42 C334.07,59.39 332.65,58.73 331.80,57.74 C330.95,56.75 330.61,54.90 330.68,53.50Z" fill="none" fill-opacity="0" stroke="#3a3a3a" stroke-opacity="0.75" stroke-width="0.45"/>
<path d="M330.60,53.50 C330.57,51.83 330.90,49.95 331.80,48.80 C332.70,47.65 334.47,46.85 336.00,46.60 C337.53,46.35 339.57,46.65 341.00,47.30 C342.43,47.95 343.93,49.38 344.60,50.50 C345.27,51.62 345.35,52.67 345.00,54.00 C344.65,55.33 343.83,57.37 342.50,58.50 C341.17,59.63 338.75,60.75 337.00,60.80 C335.25,60.85 333.07,60.02 332.00,58.80 C330.93,57.58 330.63,55.17 330.60,53.50Z" fill="url(#gcd4)"/>
<path d="M330.88,53.50 C330.85,52.17 331.12,50.66 331.84,49.74 C332.56,48.82 333.97,48.18 335.20,47.98 C336.43,47.78 338.05,48.02 339.20,48.54 C340.35,49.06 341.55,50.21 342.08,51.10 C342.61,51.99 342.68,52.83 342.40,53.90 C342.12,54.97 341.47,56.59 340.40,57.50 C339.33,58.41 337.40,59.30 336.00,59.34 C334.60,59.38 332.85,58.71 332.00,57.74 C331.15,56.77 330.91,54.83 330.88,53.50Z" fill="#111"/>
<path d="M384.00,76.80 C384.78,77.18 385.73,78.05 386.20,79.50 C386.67,80.95 386.92,83.42 386.80,85.50 C386.68,87.58 386.47,90.28 385.50,92.00 C384.53,93.72 382.67,95.22 381.00,95.80 C379.33,96.38 377.08,96.13 375.50,95.50 C373.92,94.87 372.22,93.42 371.50,92.00 C370.78,90.58 370.87,88.58 371.20,87.00 C371.53,85.42 372.37,83.83 373.50,82.50 C374.63,81.17 376.67,79.88 378.00,79.00 C379.33,78.12 380.50,77.57 381.50,77.20 C382.50,76.83 383.22,76.42 384.00,76.80Z" fill="url(#grl)"/>
<path d="M384.00,76.80 C384.78,77.18 385.73,78.05 386.20,79.50 C386.67,80.95 386.92,83.42 386.80,85.50 C386.68,87.58 386.47,90.28 385.50,92.00 C384.53,93.72 382.67,95.22 381.00,95.80 C379.33,96.38 377.08,96.13 375.50,95.50 C373.92,94.87 372.22,93.42 371.50,92.00 C370.78,90.58 370.87,88.58 371.20,87.00 C371.53,85.42 372.37,83.83 373.50,82.50 C374.63,81.17 376.67,79.88 378.00,79.00 C379.33,78.12 380.50,77.57 381.50,77.20 C382.50,76.83 383.22,76.42 384.00,76.80Z" fill="none" fill-opacity="0" stroke="#222" stroke-opacity="0.4" stroke-width="0.4"/>
<path d="M383.38,78.30 C384.06,78.63 384.87,79.37 385.28,80.62 C385.68,81.87 385.89,83.99 385.79,85.78 C385.69,87.57 385.51,89.89 384.67,91.37 C383.84,92.85 382.24,94.14 380.80,94.64 C379.37,95.14 377.44,94.92 376.07,94.38 C374.71,93.84 373.25,92.59 372.63,91.37 C372.02,90.15 372.09,88.43 372.38,87.07 C372.66,85.71 373.38,84.35 374.35,83.20 C375.33,82.05 377.08,80.95 378.22,80.19 C379.37,79.43 380.37,78.96 381.23,78.64 C382.09,78.33 382.71,77.97 383.38,78.30Z" fill="none" fill-opacity="0" stroke="#222" stroke-opacity="0.4" stroke-width="0.4"/>
<path d="M382.81,79.69 C383.38,79.97 384.08,80.60 384.42,81.66 C384.76,82.72 384.94,84.52 384.86,86.04 C384.77,87.56 384.61,89.53 383.91,90.78 C383.20,92.04 381.84,93.13 380.62,93.56 C379.41,93.98 377.76,93.80 376.61,93.34 C375.45,92.88 374.21,91.82 373.69,90.78 C373.16,89.75 373.22,88.29 373.47,87.14 C373.71,85.98 374.32,84.82 375.15,83.85 C375.97,82.88 377.46,81.94 378.43,81.30 C379.41,80.65 380.26,80.25 380.99,79.98 C381.72,79.71 382.24,79.41 382.81,79.69Z" fill="none" fill-opacity="0" stroke="#222" stroke-opacity="0.4" stroke-width="0.4"/>
<path d="M382.24,81.08 C382.71,81.31 383.28,81.83 383.56,82.70 C383.84,83.57 383.99,85.05 383.92,86.30 C383.85,87.55 383.72,89.17 383.14,90.20 C382.56,91.23 381.44,92.13 380.44,92.48 C379.44,92.83 378.09,92.68 377.14,92.30 C376.19,91.92 375.17,91.05 374.74,90.20 C374.31,89.35 374.36,88.15 374.56,87.20 C374.76,86.25 375.26,85.30 375.94,84.50 C376.62,83.70 377.84,82.93 378.64,82.40 C379.44,81.87 380.14,81.54 380.74,81.32 C381.34,81.10 381.77,80.85 382.24,81.08Z" fill="none" fill-opacity="0" stroke="#222" stroke-opacity="0.4" stroke-width="0.4"/>
<path d="M381.67,82.47 C382.04,82.65 382.48,83.06 382.70,83.74 C382.92,84.42 383.04,85.58 382.98,86.56 C382.93,87.54 382.83,88.81 382.37,89.61 C381.92,90.42 381.04,91.13 380.26,91.40 C379.47,91.68 378.42,91.56 377.67,91.26 C376.93,90.96 376.13,90.28 375.79,89.61 C375.46,88.95 375.50,88.01 375.65,87.27 C375.81,86.52 376.20,85.78 376.73,85.15 C377.27,84.52 378.22,83.92 378.85,83.50 C379.47,83.09 380.02,82.83 380.49,82.66 C380.96,82.49 381.30,82.29 381.67,82.47Z" fill="none" fill-opacity="0" stroke="#222" stroke-opacity="0.4" stroke-width="0.4"/>
<ellipse cx="380.2" cy="85" rx="0.8" ry="3.2" fill="#f0f0f0" fill-opacity="0.85" transform="rotate(15 380.2 85)"/>
<rect x="320.2" y="85.6" width="2.2" height="3" fill="#111"/>
<rect x="362.6" y="75.00" width="29.8" height="36.00" fill="none" stroke="#c24a6a" stroke-width="1.1"/>
<rect x="321.5" y="40.70" width="71.50" height="70.50" fill="none" stroke="#3a3a3a" stroke-width="1.2"/>
<line x1="395.00" y1="78.40" x2="412.00" y2="78.40" stroke="#a83a5c" stroke-width="0.75" />
<path d="M414.8,78.40 L411.3,76.90 L411.3,79.90 Z" fill="#9a3050"/>
<line x1="318.70" y1="48.40" x2="321.50" y2="48.40" stroke="#333" stroke-width="0.8" />
<line x1="318.70" y1="59.80" x2="321.50" y2="59.80" stroke="#333" stroke-width="0.8" />
<line x1="318.70" y1="73.80" x2="321.50" y2="73.80" stroke="#333" stroke-width="0.8" />
<line x1="318.70" y1="87.40" x2="321.50" y2="87.40" stroke="#333" stroke-width="0.8" />
<line x1="318.70" y1="101.20" x2="321.50" y2="101.20" stroke="#333" stroke-width="0.8" />
<line x1="319.90" y1="42.70" x2="321.50" y2="42.70" stroke="#555" stroke-width="0.5" />
<line x1="319.90" y1="47.70" x2="321.50" y2="47.70" stroke="#555" stroke-width="0.5" />
<line x1="319.90" y1="52.70" x2="321.50" y2="52.70" stroke="#555" stroke-width="0.5" />
<line x1="319.90" y1="57.70" x2="321.50" y2="57.70" stroke="#555" stroke-width="0.5" />
<line x1="319.90" y1="62.70" x2="321.50" y2="62.70" stroke="#555" stroke-width="0.5" />
<line x1="319.90" y1="67.70" x2="321.50" y2="67.70" stroke="#555" stroke-width="0.5" />
<line x1="319.90" y1="72.70" x2="321.50" y2="72.70" stroke="#555" stroke-width="0.5" />
<line x1="319.90" y1="77.70" x2="321.50" y2="77.70" stroke="#555" stroke-width="0.5" />
<line x1="319.90" y1="82.70" x2="321.50" y2="82.70" stroke="#555" stroke-width="0.5" />
<line x1="319.90" y1="87.70" x2="321.50" y2="87.70" stroke="#555" stroke-width="0.5" />
<line x1="319.90" y1="92.70" x2="321.50" y2="92.70" stroke="#555" stroke-width="0.5" />
<line x1="319.90" y1="97.70" x2="321.50" y2="97.70" stroke="#555" stroke-width="0.5" />
<line x1="319.90" y1="102.70" x2="321.50" y2="102.70" stroke="#555" stroke-width="0.5" />
<line x1="319.90" y1="107.70" x2="321.50" y2="107.70" stroke="#555" stroke-width="0.5" />
<line x1="337.20" y1="111.20" x2="337.20" y2="113.80" stroke="#333" stroke-width="0.8" />
<line x1="357.80" y1="111.20" x2="357.80" y2="113.80" stroke="#333" stroke-width="0.8" />
<line x1="371.80" y1="111.20" x2="371.80" y2="113.80" stroke="#333" stroke-width="0.8" />
<line x1="384.00" y1="111.20" x2="384.00" y2="113.80" stroke="#333" stroke-width="0.8" />
<line x1="323.50" y1="111.20" x2="323.50" y2="112.80" stroke="#555" stroke-width="0.5" />
<line x1="328.50" y1="111.20" x2="328.50" y2="112.80" stroke="#555" stroke-width="0.5" />
<line x1="333.50" y1="111.20" x2="333.50" y2="112.80" stroke="#555" stroke-width="0.5" />
<line x1="338.50" y1="111.20" x2="338.50" y2="112.80" stroke="#555" stroke-width="0.5" />
<line x1="343.50" y1="111.20" x2="343.50" y2="112.80" stroke="#555" stroke-width="0.5" />
<line x1="348.50" y1="111.20" x2="348.50" y2="112.80" stroke="#555" stroke-width="0.5" />
<line x1="353.50" y1="111.20" x2="353.50" y2="112.80" stroke="#555" stroke-width="0.5" />
<line x1="358.50" y1="111.20" x2="358.50" y2="112.80" stroke="#555" stroke-width="0.5" />
<line x1="363.50" y1="111.20" x2="363.50" y2="112.80" stroke="#555" stroke-width="0.5" />
<line x1="368.50" y1="111.20" x2="368.50" y2="112.80" stroke="#555" stroke-width="0.5" />
<line x1="373.50" y1="111.20" x2="373.50" y2="112.80" stroke="#555" stroke-width="0.5" />
<line x1="378.50" y1="111.20" x2="378.50" y2="112.80" stroke="#555" stroke-width="0.5" />
<line x1="383.50" y1="111.20" x2="383.50" y2="112.80" stroke="#555" stroke-width="0.5" />
<line x1="388.50" y1="111.20" x2="388.50" y2="112.80" stroke="#555" stroke-width="0.5" />
<rect x="331.5" y="110.90" width="11" height="1.6" fill="#222"/>
<text x="305.51" y="49.70" font-size="6.3" text-anchor="start" fill="#2a2a2a" stroke="#2a2a2a" stroke-width="0.15" font-weight="normal" >10</text>
<text x="312.80" y="46.95" font-size="3.9" text-anchor="start" fill="#2a2a2a" stroke="#2a2a2a" stroke-width="0.15" font-weight="normal" >6</text>
<text x="305.51" y="60.80" font-size="6.3" text-anchor="start" fill="#2a2a2a" stroke="#2a2a2a" stroke-width="0.15" font-weight="normal" >10</text>
<text x="312.80" y="58.05" font-size="3.9" text-anchor="start" fill="#2a2a2a" stroke="#2a2a2a" stroke-width="0.15" font-weight="normal" >5</text>
<text x="305.21" y="75.60" font-size="6.3" text-anchor="start" fill="#2a2a2a" stroke="#2a2a2a" stroke-width="0.15" font-weight="normal" >10</text>
<text x="312.50" y="72.85" font-size="3.9" text-anchor="start" fill="#2a2a2a" stroke="#2a2a2a" stroke-width="0.15" font-weight="normal" >4</text>
<text x="312.00" y="89.50" font-size="6.3" text-anchor="start" fill="#2a2a2a" stroke="#2a2a2a" stroke-width="0.15" font-weight="normal" >0</text>
<text x="301.45" y="103.60" font-size="6.3" text-anchor="start" fill="#2a2a2a" stroke="#2a2a2a" stroke-width="0.15" font-weight="normal" >−</text>
<text x="305.01" y="103.60" font-size="6.3" text-anchor="start" fill="#2a2a2a" stroke="#2a2a2a" stroke-width="0.15" font-weight="normal" >10</text>
<text x="312.30" y="100.85" font-size="3.9" text-anchor="start" fill="#2a2a2a" stroke="#2a2a2a" stroke-width="0.15" font-weight="normal" >4</text>
<text x="335.30" y="123.60" font-size="6.3" text-anchor="start" fill="#2a2a2a" stroke="#2a2a2a" stroke-width="0.15" font-weight="normal" >0</text>
<text x="353.71" y="123.60" font-size="6.3" text-anchor="start" fill="#2a2a2a" stroke="#2a2a2a" stroke-width="0.15" font-weight="normal" >10</text>
<text x="361.00" y="120.85" font-size="3.9" text-anchor="start" fill="#2a2a2a" stroke="#2a2a2a" stroke-width="0.15" font-weight="normal" >4</text>
<text x="367.11" y="123.60" font-size="6.3" text-anchor="start" fill="#2a2a2a" stroke="#2a2a2a" stroke-width="0.15" font-weight="normal" >10</text>
<text x="374.40" y="120.85" font-size="3.9" text-anchor="start" fill="#2a2a2a" stroke="#2a2a2a" stroke-width="0.15" font-weight="normal" >5</text>
<text x="380.21" y="123.60" font-size="6.3" text-anchor="start" fill="#2a2a2a" stroke="#2a2a2a" stroke-width="0.15" font-weight="normal" >10</text>
<text x="387.50" y="120.85" font-size="3.9" text-anchor="start" fill="#2a2a2a" stroke="#2a2a2a" stroke-width="0.15" font-weight="normal" >6</text>
<text x="353.90" y="50.70" font-size="6.4" text-anchor="start" fill="#2a2a2a" stroke="#2a2a2a" stroke-width="0.15" font-weight="normal" textLength="34.40" lengthAdjust="spacingAndGlyphs" >CD4 T cells</text>
<text x="353.90" y="58.60" font-size="6.4" text-anchor="start" fill="#2a2a2a" stroke="#2a2a2a" stroke-width="0.15" font-weight="normal" textLength="18.20" lengthAdjust="spacingAndGlyphs" >82.7%</text>
<text x="361.00" y="84.80" font-size="6.4" text-anchor="end" fill="#2a2a2a" stroke="#2a2a2a" stroke-width="0.15" font-weight="normal" textLength="33.20" lengthAdjust="spacingAndGlyphs" >RL Y1503C</text>
<text x="361.00" y="93.10" font-size="6.4" text-anchor="end" fill="#2a2a2a" stroke="#2a2a2a" stroke-width="0.15" font-weight="normal" textLength="18.50" lengthAdjust="spacingAndGlyphs" >17.0%</text>
<text transform="translate(297.20,113.20) rotate(-90)" font-size="9" fill="#1e1e1e" stroke="#1e1e1e" stroke-width="0.15" textLength="47.6" lengthAdjust="spacingAndGlyphs">CellTrace-violet</text>
<line x1="293.80" y1="119.50" x2="293.80" y2="134.60" stroke="#222" stroke-width="1.0" />
<line x1="293.30" y1="134.60" x2="306.80" y2="134.60" stroke="#222" stroke-width="1.0" />
<path d="M293.80,116.80 L291.90,121.00 L295.70,121.00 Z" fill="#222"/>
<path d="M309.60,134.60 L305.40,132.70 L305.40,136.50 Z" fill="#222"/>
<text x="313.80" y="137.60" font-size="8.6" text-anchor="start" fill="#1e1e1e" stroke="#1e1e1e" stroke-width="0.15" font-weight="normal" textLength="52.00" lengthAdjust="spacingAndGlyphs" >CellTrace-FarRed</text>
<path d="M456.00,95.00 C456.03,93.17 456.50,89.67 457.50,87.50 C458.50,85.33 460.25,83.58 462.00,82.00 C463.75,80.42 465.92,79.00 468.00,78.00 C470.08,77.00 472.58,76.08 474.50,76.00 C476.42,75.92 478.17,76.50 479.50,77.50 C480.83,78.50 481.88,79.92 482.50,82.00 C483.12,84.08 483.37,87.50 483.20,90.00 C483.03,92.50 482.62,95.08 481.50,97.00 C480.38,98.92 478.50,100.53 476.50,101.50 C474.50,102.47 471.92,102.88 469.50,102.80 C467.08,102.72 464.03,101.72 462.00,101.00 C459.97,100.28 458.30,99.50 457.30,98.50 C456.30,97.50 455.97,96.83 456.00,95.00Z" fill="url(#glb)"/>
<path d="M457.30,98.50 C454.22,101.67 455.97,96.83 456.00,95.00 C456.03,93.17 456.50,89.67 457.50,87.50 C458.50,85.33 460.25,83.58 462.00,82.00 C463.75,80.42 465.92,79.00 468.00,78.00 C470.08,77.00 476.28,72.58 474.50,76.00" fill="none" stroke="#1a1a1a" stroke-opacity="0.8" stroke-width="0.5"/>
<path d="M458.60,98.23 C455.70,101.21 457.35,96.66 457.38,94.94 C457.41,93.22 457.85,89.93 458.79,87.89 C459.73,85.85 461.38,84.21 463.02,82.72 C464.66,81.23 466.70,79.90 468.66,78.96 C470.62,78.02 476.45,73.87 474.77,77.08" fill="none" stroke="#1a1a1a" stroke-opacity="0.8" stroke-width="0.5"/>
<path d="M459.90,97.96 C457.19,100.75 458.73,96.49 458.76,94.88 C458.79,93.27 459.20,90.19 460.08,88.28 C460.96,86.37 462.50,84.83 464.04,83.44 C465.58,82.05 467.49,80.80 469.32,79.92 C471.15,79.04 476.61,75.15 475.04,78.16" fill="none" stroke="#1a1a1a" stroke-opacity="0.8" stroke-width="0.5"/>
<path d="M461.21,97.69 C458.68,100.29 460.11,96.32 460.14,94.82 C460.17,93.32 460.55,90.45 461.37,88.67 C462.19,86.89 463.62,85.46 465.06,84.16 C466.50,82.86 468.27,81.70 469.98,80.88 C471.69,80.06 476.77,76.44 475.31,79.24" fill="none" stroke="#1a1a1a" stroke-opacity="0.8" stroke-width="0.5"/>
<path d="M462.51,97.42 C460.16,99.83 461.49,96.15 461.52,94.76 C461.55,93.37 461.90,90.71 462.66,89.06 C463.42,87.41 464.75,86.08 466.08,84.88 C467.41,83.68 469.06,82.60 470.64,81.84 C472.22,81.08 476.94,77.72 475.58,80.32" fill="none" stroke="#1a1a1a" stroke-opacity="0.8" stroke-width="0.5"/>
<path d="M456.00,95.00 C456.03,93.17 456.50,89.67 457.50,87.50 C458.50,85.33 460.25,83.58 462.00,82.00 C463.75,80.42 465.92,79.00 468.00,78.00 C470.08,77.00 472.58,76.08 474.50,76.00 C476.42,75.92 478.17,76.50 479.50,77.50 C480.83,78.50 481.88,79.92 482.50,82.00 C483.12,84.08 483.37,87.50 483.20,90.00 C483.03,92.50 482.62,95.08 481.50,97.00 C480.38,98.92 478.50,100.53 476.50,101.50 C474.50,102.47 471.92,102.88 469.50,102.80 C467.08,102.72 464.03,101.72 462.00,101.00 C459.97,100.28 458.30,99.50 457.30,98.50 C456.30,97.50 455.97,96.83 456.00,95.00Z" fill="none" fill-opacity="0" stroke="#555" stroke-opacity="0.6" stroke-width="0.5"/>
<path d="M460.50,94.25 C460.52,92.88 460.88,90.25 461.62,88.62 C462.38,87.00 463.69,85.69 465.00,84.50 C466.31,83.31 467.94,82.25 469.50,81.50 C471.06,80.75 472.94,80.06 474.38,80.00 C475.81,79.94 477.12,80.38 478.12,81.12 C479.12,81.88 479.91,82.94 480.38,84.50 C480.84,86.06 481.02,88.62 480.90,90.50 C480.77,92.38 480.46,94.31 479.62,95.75 C478.79,97.19 477.38,98.40 475.88,99.12 C474.38,99.85 472.44,100.16 470.62,100.10 C468.81,100.04 466.52,99.29 465.00,98.75 C463.48,98.21 462.23,97.62 461.48,96.88 C460.73,96.12 460.48,95.62 460.50,94.25Z" fill="none" fill-opacity="0" stroke="#444" stroke-opacity="0.35" stroke-width="0.45"/>
<path d="M464.10,93.65 C464.12,92.64 464.38,90.72 464.93,89.53 C465.48,88.33 466.44,87.37 467.40,86.50 C468.36,85.63 469.55,84.85 470.70,84.30 C471.85,83.75 473.22,83.25 474.27,83.20 C475.33,83.15 476.29,83.48 477.02,84.03 C477.76,84.58 478.34,85.35 478.68,86.50 C479.01,87.65 479.15,89.53 479.06,90.90 C478.97,92.28 478.74,93.70 478.12,94.75 C477.51,95.80 476.48,96.69 475.38,97.22 C474.27,97.76 472.85,97.99 471.52,97.94 C470.20,97.89 468.52,97.34 467.40,96.95 C466.28,96.56 465.37,96.12 464.81,95.58 C464.26,95.03 464.08,94.66 464.10,93.65Z" fill="none" fill-opacity="0" stroke="#444" stroke-opacity="0.35" stroke-width="0.45"/>
<path d="M467.70,93.05 C467.71,92.41 467.88,91.18 468.23,90.42 C468.58,89.67 469.19,89.05 469.80,88.50 C470.41,87.95 471.17,87.45 471.90,87.10 C472.63,86.75 473.50,86.43 474.18,86.40 C474.85,86.37 475.46,86.58 475.93,86.92 C476.39,87.27 476.76,87.77 476.98,88.50 C477.19,89.23 477.28,90.42 477.22,91.30 C477.16,92.17 477.02,93.08 476.62,93.75 C476.23,94.42 475.57,94.99 474.88,95.33 C474.18,95.66 473.27,95.81 472.43,95.78 C471.58,95.75 470.51,95.40 469.80,95.15 C469.09,94.90 468.51,94.62 468.16,94.28 C467.81,93.93 467.69,93.69 467.70,93.05Z" fill="none" fill-opacity="0" stroke="#444" stroke-opacity="0.35" stroke-width="0.45"/>
<path d="M481.8,84 C483.5,90 482.5,97 477,101 C473,103 467,103 462,100.5" fill="none" stroke="#333" stroke-opacity="0.45" stroke-width="1.6"/>
<path d="M497.00,73.00 C498.25,72.83 498.83,74.33 499.50,76.00 C500.17,77.67 500.78,80.33 501.00,83.00 C501.22,85.67 501.13,89.25 500.80,92.00 C500.47,94.75 500.05,97.42 499.00,99.50 C497.95,101.58 496.08,103.67 494.50,104.50 C492.92,105.33 490.87,105.42 489.50,104.50 C488.13,103.58 486.85,101.25 486.30,99.00 C485.75,96.75 485.92,93.67 486.20,91.00 C486.48,88.33 487.03,85.33 488.00,83.00 C488.97,80.67 490.50,78.67 492.00,77.00 C493.50,75.33 495.75,73.17 497.00,73.00Z" fill="url(#grb)"/>
<path d="M497.00,73.00 C498.25,72.83 498.83,74.33 499.50,76.00 C500.17,77.67 500.78,80.33 501.00,83.00 C501.22,85.67 501.13,89.25 500.80,92.00 C500.47,94.75 500.05,97.42 499.00,99.50 C497.95,101.58 496.08,103.67 494.50,104.50 C492.92,105.33 490.87,105.42 489.50,104.50 C488.13,103.58 486.85,101.25 486.30,99.00 C485.75,96.75 485.92,93.67 486.20,91.00 C486.48,88.33 487.03,85.33 488.00,83.00 C488.97,80.67 490.50,78.67 492.00,77.00 C493.50,75.33 495.75,73.17 497.00,73.00Z" fill="none" fill-opacity="0" stroke="#111" stroke-opacity="0.5" stroke-width="0.4"/>
<path d="M496.32,76.30 C497.39,76.16 497.88,77.43 498.45,78.85 C499.02,80.27 499.54,82.53 499.73,84.80 C499.91,87.07 499.84,90.11 499.56,92.45 C499.27,94.79 498.92,97.05 498.02,98.83 C497.13,100.60 495.55,102.37 494.20,103.08 C492.85,103.78 491.11,103.85 489.95,103.08 C488.79,102.30 487.70,100.31 487.23,98.40 C486.76,96.49 486.90,93.87 487.14,91.60 C487.39,89.33 487.85,86.78 488.68,84.80 C489.50,82.82 490.80,81.12 492.07,79.70 C493.35,78.28 495.26,76.44 496.32,76.30Z" fill="none" fill-opacity="0" stroke="#111" stroke-opacity="0.5" stroke-width="0.4"/>
<path d="M495.65,79.60 C496.52,79.48 496.93,80.53 497.40,81.70 C497.87,82.87 498.30,84.73 498.45,86.60 C498.60,88.47 498.54,90.98 498.31,92.90 C498.08,94.83 497.79,96.69 497.05,98.15 C496.31,99.61 495.01,101.07 493.90,101.65 C492.79,102.23 491.36,102.29 490.40,101.65 C489.44,101.01 488.55,99.38 488.16,97.80 C487.78,96.22 487.89,94.07 488.09,92.20 C488.29,90.33 488.67,88.23 489.35,86.60 C490.03,84.97 491.10,83.57 492.15,82.40 C493.20,81.23 494.77,79.72 495.65,79.60Z" fill="none" fill-opacity="0" stroke="#111" stroke-opacity="0.5" stroke-width="0.4"/>
<path d="M494.98,82.90 C495.66,82.81 495.98,83.63 496.35,84.55 C496.72,85.47 497.06,86.93 497.18,88.40 C497.29,89.87 497.25,91.84 497.06,93.35 C496.88,94.86 496.65,96.33 496.07,97.47 C495.50,98.62 494.47,99.77 493.60,100.22 C492.73,100.68 491.60,100.73 490.85,100.22 C490.10,99.72 489.39,98.44 489.09,97.20 C488.79,95.96 488.88,94.27 489.03,92.80 C489.19,91.33 489.49,89.68 490.02,88.40 C490.56,87.12 491.40,86.02 492.23,85.10 C493.05,84.18 494.29,82.99 494.98,82.90Z" fill="none" fill-opacity="0" stroke="#111" stroke-opacity="0.5" stroke-width="0.4"/>
<line x1="442.00" y1="60.40" x2="512.30" y2="60.40" stroke="#222" stroke-width="1.0" />
<line x1="484.60" y1="60.40" x2="484.60" y2="108.90" stroke="#222" stroke-width="1.1" />
<line x1="442.00" y1="108.90" x2="512.30" y2="108.90" stroke="#444" stroke-width="0.9" />
<rect x="442.0" y="40.80" width="70.30" height="70.80" fill="none" stroke="#3a3a3a" stroke-width="1.2"/>
<line x1="440.40" y1="42.30" x2="442.00" y2="42.30" stroke="#555" stroke-width="0.5" />
<line x1="440.40" y1="46.40" x2="442.00" y2="46.40" stroke="#555" stroke-width="0.5" />
<line x1="440.40" y1="50.50" x2="442.00" y2="50.50" stroke="#555" stroke-width="0.5" />
<line x1="440.40" y1="54.60" x2="442.00" y2="54.60" stroke="#555" stroke-width="0.5" />
<line x1="440.40" y1="58.70" x2="442.00" y2="58.70" stroke="#555" stroke-width="0.5" />
<line x1="440.40" y1="62.80" x2="442.00" y2="62.80" stroke="#555" stroke-width="0.5" />
<line x1="440.40" y1="66.90" x2="442.00" y2="66.90" stroke="#555" stroke-width="0.5" />
<line x1="440.40" y1="71.00" x2="442.00" y2="71.00" stroke="#555" stroke-width="0.5" />
<line x1="440.40" y1="75.10" x2="442.00" y2="75.10" stroke="#555" stroke-width="0.5" />
<line x1="440.40" y1="79.20" x2="442.00" y2="79.20" stroke="#555" stroke-width="0.5" />
<line x1="440.40" y1="83.30" x2="442.00" y2="83.30" stroke="#555" stroke-width="0.5" />
<line x1="440.40" y1="87.40" x2="442.00" y2="87.40" stroke="#555" stroke-width="0.5" />
<line x1="440.40" y1="91.50" x2="442.00" y2="91.50" stroke="#555" stroke-width="0.5" />
<line x1="440.40" y1="95.60" x2="442.00" y2="95.60" stroke="#555" stroke-width="0.5" />
<line x1="440.40" y1="99.70" x2="442.00" y2="99.70" stroke="#555" stroke-width="0.5" />
<line x1="440.40" y1="103.80" x2="442.00" y2="103.80" stroke="#555" stroke-width="0.5" />
<line x1="440.40" y1="107.90" x2="442.00" y2="107.90" stroke="#555" stroke-width="0.5" />
<line x1="440.40" y1="112.00" x2="442.00" y2="112.00" stroke="#555" stroke-width="0.5" />
<line x1="444.00" y1="111.60" x2="444.00" y2="113.20" stroke="#555" stroke-width="0.5" />
<line x1="448.20" y1="111.60" x2="448.20" y2="113.20" stroke="#555" stroke-width="0.5" />
<line x1="452.40" y1="111.60" x2="452.40" y2="113.20" stroke="#555" stroke-width="0.5" />
<line x1="456.60" y1="111.60" x2="456.60" y2="113.20" stroke="#555" stroke-width="0.5" />
<line x1="460.80" y1="111.60" x2="460.80" y2="113.20" stroke="#555" stroke-width="0.5" />
<line x1="465.00" y1="111.60" x2="465.00" y2="113.20" stroke="#555" stroke-width="0.5" />
<line x1="469.20" y1="111.60" x2="469.20" y2="113.20" stroke="#555" stroke-width="0.5" />
<line x1="473.40" y1="111.60" x2="473.40" y2="113.20" stroke="#555" stroke-width="0.5" />
<line x1="477.60" y1="111.60" x2="477.60" y2="113.20" stroke="#555" stroke-width="0.5" />
<line x1="481.80" y1="111.60" x2="481.80" y2="113.20" stroke="#555" stroke-width="0.5" />
<line x1="486.00" y1="111.60" x2="486.00" y2="113.20" stroke="#555" stroke-width="0.5" />
<line x1="490.20" y1="111.60" x2="490.20" y2="113.20" stroke="#555" stroke-width="0.5" />
<line x1="494.40" y1="111.60" x2="494.40" y2="113.20" stroke="#555" stroke-width="0.5" />
<line x1="498.60" y1="111.60" x2="498.60" y2="113.20" stroke="#555" stroke-width="0.5" />
<line x1="502.80" y1="111.60" x2="502.80" y2="113.20" stroke="#555" stroke-width="0.5" />
<line x1="507.00" y1="111.60" x2="507.00" y2="113.20" stroke="#555" stroke-width="0.5" />
<line x1="511.20" y1="111.60" x2="511.20" y2="113.20" stroke="#555" stroke-width="0.5" />
<path d="M466.5,111.60 L469.5,111.60 L468,114.10 Z" fill="#111"/>
<text x="435.00" y="46.50" font-size="6.3" text-anchor="end" fill="#2a2a2a" stroke="#2a2a2a" stroke-width="0.15" font-weight="normal" textLength="17.60" lengthAdjust="spacingAndGlyphs" >4.0 M</text>
<line x1="438.40" y1="44.30" x2="442.00" y2="44.30" stroke="#333" stroke-width="0.8" />
<text x="435.00" y="62.90" font-size="6.3" text-anchor="end" fill="#2a2a2a" stroke="#2a2a2a" stroke-width="0.15" font-weight="normal" textLength="17.60" lengthAdjust="spacingAndGlyphs" >3.0 M</text>
<line x1="438.40" y1="60.60" x2="442.00" y2="60.60" stroke="#333" stroke-width="0.8" />
<text x="435.00" y="80.00" font-size="6.3" text-anchor="end" fill="#2a2a2a" stroke="#2a2a2a" stroke-width="0.15" font-weight="normal" textLength="17.60" lengthAdjust="spacingAndGlyphs" >2.0 M</text>
<line x1="438.40" y1="77.80" x2="442.00" y2="77.80" stroke="#333" stroke-width="0.8" />
<text x="435.00" y="96.80" font-size="6.3" text-anchor="end" fill="#2a2a2a" stroke="#2a2a2a" stroke-width="0.15" font-weight="normal" textLength="17.60" lengthAdjust="spacingAndGlyphs" >1.0 M</text>
<line x1="438.40" y1="94.60" x2="442.00" y2="94.60" stroke="#333" stroke-width="0.8" />
<text x="431.34" y="113.50" font-size="6.3" text-anchor="start" fill="#2a2a2a" stroke="#2a2a2a" stroke-width="0.15" font-weight="normal" >0</text>
<line x1="438.40" y1="111.40" x2="442.00" y2="111.40" stroke="#333" stroke-width="0.8" />
<text x="433.55" y="124.00" font-size="6.3" text-anchor="start" fill="#2a2a2a" stroke="#2a2a2a" stroke-width="0.15" font-weight="normal" >−</text>
<text x="437.11" y="124.00" font-size="6.3" text-anchor="start" fill="#2a2a2a" stroke="#2a2a2a" stroke-width="0.15" font-weight="normal" >10</text>
<text x="444.40" y="121.25" font-size="3.9" text-anchor="start" fill="#2a2a2a" stroke="#2a2a2a" stroke-width="0.15" font-weight="normal" >5</text>
<text x="449.75" y="124.00" font-size="6.3" text-anchor="start" fill="#2a2a2a" stroke="#2a2a2a" stroke-width="0.15" font-weight="normal" >−</text>
<text x="453.31" y="124.00" font-size="6.3" text-anchor="start" fill="#2a2a2a" stroke="#2a2a2a" stroke-width="0.15" font-weight="normal" >10</text>
<text x="460.60" y="121.25" font-size="3.9" text-anchor="start" fill="#2a2a2a" stroke="#2a2a2a" stroke-width="0.15" font-weight="normal" >4</text>
<text x="466.54" y="124.00" font-size="6.3" text-anchor="start" fill="#2a2a2a" stroke="#2a2a2a" stroke-width="0.15" font-weight="normal" >0</text>
<text x="476.21" y="124.00" font-size="6.3" text-anchor="start" fill="#2a2a2a" stroke="#2a2a2a" stroke-width="0.15" font-weight="normal" >10</text>
<text x="483.50" y="121.25" font-size="3.9" text-anchor="start" fill="#2a2a2a" stroke="#2a2a2a" stroke-width="0.15" font-weight="normal" >4</text>
<text x="489.91" y="124.00" font-size="6.3" text-anchor="start" fill="#2a2a2a" stroke="#2a2a2a" stroke-width="0.15" font-weight="normal" >10</text>
<text x="497.20" y="121.25" font-size="3.9" text-anchor="start" fill="#2a2a2a" stroke="#2a2a2a" stroke-width="0.15" font-weight="normal" >5</text>
<text x="500.71" y="124.00" font-size="6.3" text-anchor="start" fill="#2a2a2a" stroke="#2a2a2a" stroke-width="0.15" font-weight="normal" >10</text>
<text x="508.00" y="121.25" font-size="3.9" text-anchor="start" fill="#2a2a2a" stroke="#2a2a2a" stroke-width="0.15" font-weight="normal" >6</text>
<text x="452.50" y="50.10" font-size="6.4" text-anchor="start" fill="#2a2a2a" stroke="#2a2a2a" stroke-width="0.15" font-weight="normal" textLength="20.90" lengthAdjust="spacingAndGlyphs" >CD40–</text>
<text x="452.50" y="57.80" font-size="6.4" text-anchor="start" fill="#2a2a2a" stroke="#2a2a2a" stroke-width="0.15" font-weight="normal" textLength="19.10" lengthAdjust="spacingAndGlyphs" >47.2%</text>
<text x="489.00" y="50.10" font-size="6.4" text-anchor="start" fill="#2a2a2a" stroke="#2a2a2a" stroke-width="0.15" font-weight="normal" textLength="20.00" lengthAdjust="spacingAndGlyphs" >CD40+</text>
<text x="489.00" y="57.80" font-size="6.4" text-anchor="start" fill="#2a2a2a" stroke="#2a2a2a" stroke-width="0.15" font-weight="normal" textLength="18.80" lengthAdjust="spacingAndGlyphs" >52.5%</text>
<text transform="translate(414.6,113.40) rotate(-90)" font-size="9.2" fill="#1e1e1e" stroke="#1e1e1e" stroke-width="0.15" textLength="18" lengthAdjust="spacingAndGlyphs">SSC-A</text>
<line x1="410.60" y1="120.50" x2="410.60" y2="133.60" stroke="#222" stroke-width="1.0" />
<line x1="410.10" y1="133.60" x2="424.60" y2="133.60" stroke="#222" stroke-width="1.0" />
<path d="M410.60,117.80 L408.70,122.00 L412.50,122.00 Z" fill="#222"/>
<path d="M427.40,133.60 L423.20,131.70 L423.20,135.50 Z" fill="#222"/>
<text x="432.80" y="136.60" font-size="8.6" text-anchor="start" fill="#1e1e1e" stroke="#1e1e1e" stroke-width="0.15" font-weight="normal" textLength="40.80" lengthAdjust="spacingAndGlyphs" >BV711-CD40</text>
<text x="346.00" y="153.80" font-size="9.2" text-anchor="start" fill="#222" stroke="#222" stroke-width="0.05" font-weight="normal" textLength="141.70" lengthAdjust="spacingAndGlyphs" >Day 2 (E:T=5:1, Mosun 100 ng/mL)</text>
<line x1="320.80" y1="157.70" x2="513.00" y2="157.70" stroke="#8a8a8a" stroke-width="1.6" />
<line x1="321.50" y1="197.20" x2="362.60" y2="197.20" stroke="#cfcfcf" stroke-width="0.8" />
<line x1="362.60" y1="163.90" x2="362.60" y2="197.20" stroke="#cfcfcf" stroke-width="0.8" />
<path d="M337.00,175.70 C338.08,175.70 340.00,176.12 341.50,177.00 C343.00,177.88 344.73,179.50 346.00,181.00 C347.27,182.50 349.10,184.25 349.10,186.00 C349.10,187.75 347.27,189.92 346.00,191.50 C344.73,193.08 342.83,194.52 341.50,195.50 C340.17,196.48 339.08,197.23 338.00,197.40 C336.92,197.57 335.77,197.40 335.00,196.50 C334.23,195.60 333.70,193.75 333.40,192.00 C333.10,190.25 333.13,188.00 333.20,186.00 C333.27,184.00 333.50,181.50 333.80,180.00 C334.10,178.50 334.47,177.72 335.00,177.00 C335.53,176.28 335.92,175.70 337.00,175.70Z" fill="none" fill-opacity="0" stroke="#444" stroke-opacity="0.6" stroke-width="0.45"/>
<path d="M336.70,176.78 C337.68,176.78 339.40,177.15 340.75,177.95 C342.10,178.75 343.66,180.20 344.80,181.55 C345.94,182.90 347.59,184.48 347.59,186.05 C347.59,187.62 345.94,189.57 344.80,191.00 C343.66,192.43 341.95,193.72 340.75,194.60 C339.55,195.48 338.58,196.16 337.60,196.31 C336.62,196.46 335.59,196.31 334.90,195.50 C334.21,194.69 333.73,193.02 333.46,191.45 C333.19,189.88 333.22,187.85 333.28,186.05 C333.34,184.25 333.55,182.00 333.82,180.65 C334.09,179.30 334.42,178.59 334.90,177.95 C335.38,177.30 335.72,176.78 336.70,176.78Z" fill="none" fill-opacity="0" stroke="#444" stroke-opacity="0.6" stroke-width="0.45"/>
<path d="M337.00,175.70 C338.08,175.70 340.00,176.12 341.50,177.00 C343.00,177.88 344.73,179.50 346.00,181.00 C347.27,182.50 349.10,184.25 349.10,186.00 C349.10,187.75 347.27,189.92 346.00,191.50 C344.73,193.08 342.83,194.52 341.50,195.50 C340.17,196.48 339.08,197.23 338.00,197.40 C336.92,197.57 335.77,197.40 335.00,196.50 C334.23,195.60 333.70,193.75 333.40,192.00 C333.10,190.25 333.13,188.00 333.20,186.00 C333.27,184.00 333.50,181.50 333.80,180.00 C334.10,178.50 334.47,177.72 335.00,177.00 C335.53,176.28 335.92,175.70 337.00,175.70Z" fill="url(#gcd4b)"/>
<path d="M372.00,205.70 C373.00,205.90 374.33,206.28 375.00,207.00 C375.67,207.72 376.08,208.92 376.00,210.00 C375.92,211.08 375.42,212.75 374.50,213.50 C373.58,214.25 371.83,214.50 370.50,214.50 C369.17,214.50 367.37,214.17 366.50,213.50 C365.63,212.83 365.25,211.58 365.30,210.50 C365.35,209.42 366.18,207.78 366.80,207.00 C367.42,206.22 368.13,206.02 369.00,205.80 C369.87,205.58 371.00,205.50 372.00,205.70Z" fill="none" fill-opacity="0" stroke="#666" stroke-opacity="0.75" stroke-width="0.4"/>
<path d="M371.70,206.62 C372.50,206.78 373.57,207.09 374.10,207.66 C374.63,208.23 374.97,209.19 374.90,210.06 C374.83,210.93 374.43,212.26 373.70,212.86 C372.97,213.46 371.57,213.66 370.50,213.66 C369.43,213.66 367.99,213.39 367.30,212.86 C366.61,212.33 366.30,211.33 366.34,210.46 C366.38,209.59 367.05,208.29 367.54,207.66 C368.03,207.03 368.61,206.87 369.30,206.70 C369.99,206.53 370.90,206.46 371.70,206.62Z" fill="none" fill-opacity="0" stroke="#666" stroke-opacity="0.75" stroke-width="0.4"/>
<path d="M371.40,207.54 C372.00,207.66 372.80,207.89 373.20,208.32 C373.60,208.75 373.85,209.47 373.80,210.12 C373.75,210.77 373.45,211.77 372.90,212.22 C372.35,212.67 371.30,212.82 370.50,212.82 C369.70,212.82 368.62,212.62 368.10,212.22 C367.58,211.82 367.35,211.07 367.38,210.42 C367.41,209.77 367.91,208.79 368.28,208.32 C368.65,207.85 369.08,207.73 369.60,207.60 C370.12,207.47 370.80,207.42 371.40,207.54Z" fill="none" fill-opacity="0" stroke="#666" stroke-opacity="0.75" stroke-width="0.4"/>
<path d="M371.10,208.46 C371.50,208.54 372.03,208.69 372.30,208.98 C372.57,209.27 372.73,209.75 372.70,210.18 C372.67,210.61 372.47,211.28 372.10,211.58 C371.73,211.88 371.03,211.98 370.50,211.98 C369.97,211.98 369.25,211.85 368.90,211.58 C368.55,211.31 368.40,210.81 368.42,210.38 C368.44,209.95 368.77,209.29 369.02,208.98 C369.27,208.67 369.55,208.59 369.90,208.50 C370.25,208.41 370.70,208.38 371.10,208.46Z" fill="none" fill-opacity="0" stroke="#666" stroke-opacity="0.75" stroke-width="0.4"/>
<circle cx="371" cy="220" r="0.5" fill="#999"/><circle cx="373" cy="225" r="0.5" fill="#aaa"/>
<rect x="320.2" y="208.60" width="2.2" height="3" fill="#111"/>
<rect x="362.6" y="198.20" width="29.8" height="36.00" fill="none" stroke="#c24a6a" stroke-width="1.1"/>
<rect x="321.5" y="163.90" width="71.50" height="70.50" fill="none" stroke="#3a3a3a" stroke-width="1.2"/>
<line x1="395.00" y1="198.80" x2="412.00" y2="198.80" stroke="#a83a5c" stroke-width="0.75" />
<path d="M414.8,198.80 L411.3,197.30 L411.3,200.30 Z" fill="#9a3050"/>
<line x1="318.70" y1="171.60" x2="321.50" y2="171.60" stroke="#333" stroke-width="0.8" />
<line x1="318.70" y1="183.00" x2="321.50" y2="183.00" stroke="#333" stroke-width="0.8" />
<line x1="318.70" y1="197.00" x2="321.50" y2="197.00" stroke="#333" stroke-width="0.8" />
<line x1="318.70" y1="210.60" x2="321.50" y2="210.60" stroke="#333" stroke-width="0.8" />
<line x1="318.70" y1="224.40" x2="321.50" y2="224.40" stroke="#333" stroke-width="0.8" />
<line x1="319.90" y1="165.90" x2="321.50" y2="165.90" stroke="#555" stroke-width="0.5" />
<line x1="319.90" y1="170.90" x2="321.50" y2="170.90" stroke="#555" stroke-width="0.5" />
<line x1="319.90" y1="175.90" x2="321.50" y2="175.90" stroke="#555" stroke-width="0.5" />
<line x1="319.90" y1="180.90" x2="321.50" y2="180.90" stroke="#555" stroke-width="0.5" />
<line x1="319.90" y1="185.90" x2="321.50" y2="185.90" stroke="#555" stroke-width="0.5" />
<line x1="319.90" y1="190.90" x2="321.50" y2="190.90" stroke="#555" stroke-width="0.5" />
<line x1="319.90" y1="195.90" x2="321.50" y2="195.90" stroke="#555" stroke-width="0.5" />
<line x1="319.90" y1="200.90" x2="321.50" y2="200.90" stroke="#555" stroke-width="0.5" />
<line x1="319.90" y1="205.90" x2="321.50" y2="205.90" stroke="#555" stroke-width="0.5" />
<line x1="319.90" y1="210.90" x2="321.50" y2="210.90" stroke="#555" stroke-width="0.5" />
<line x1="319.90" y1="215.90" x2="321.50" y2="215.90" stroke="#555" stroke-width="0.5" />
<line x1="319.90" y1="220.90" x2="321.50" y2="220.90" stroke="#555" stroke-width="0.5" />
<line x1="319.90" y1="225.90" x2="321.50" y2="225.90" stroke="#555" stroke-width="0.5" />
<line x1="319.90" y1="230.90" x2="321.50" y2="230.90" stroke="#555" stroke-width="0.5" />
<line x1="337.20" y1="234.40" x2="337.20" y2="237.00" stroke="#333" stroke-width="0.8" />
<line x1="357.80" y1="234.40" x2="357.80" y2="237.00" stroke="#333" stroke-width="0.8" />
<line x1="371.80" y1="234.40" x2="371.80" y2="237.00" stroke="#333" stroke-width="0.8" />
<line x1="384.00" y1="234.40" x2="384.00" y2="237.00" stroke="#333" stroke-width="0.8" />
<line x1="323.50" y1="234.40" x2="323.50" y2="236.00" stroke="#555" stroke-width="0.5" />
<line x1="328.50" y1="234.40" x2="328.50" y2="236.00" stroke="#555" stroke-width="0.5" />
<line x1="333.50" y1="234.40" x2="333.50" y2="236.00" stroke="#555" stroke-width="0.5" />
<line x1="338.50" y1="234.40" x2="338.50" y2="236.00" stroke="#555" stroke-width="0.5" />
<line x1="343.50" y1="234.40" x2="343.50" y2="236.00" stroke="#555" stroke-width="0.5" />
<line x1="348.50" y1="234.40" x2="348.50" y2="236.00" stroke="#555" stroke-width="0.5" />
<line x1="353.50" y1="234.40" x2="353.50" y2="236.00" stroke="#555" stroke-width="0.5" />
<line x1="358.50" y1="234.40" x2="358.50" y2="236.00" stroke="#555" stroke-width="0.5" />
<line x1="363.50" y1="234.40" x2="363.50" y2="236.00" stroke="#555" stroke-width="0.5" />
<line x1="368.50" y1="234.40" x2="368.50" y2="236.00" stroke="#555" stroke-width="0.5" />
<line x1="373.50" y1="234.40" x2="373.50" y2="236.00" stroke="#555" stroke-width="0.5" />
<line x1="378.50" y1="234.40" x2="378.50" y2="236.00" stroke="#555" stroke-width="0.5" />
<line x1="383.50" y1="234.40" x2="383.50" y2="236.00" stroke="#555" stroke-width="0.5" />
<line x1="388.50" y1="234.40" x2="388.50" y2="236.00" stroke="#555" stroke-width="0.5" />
<rect x="331.5" y="234.10" width="11" height="1.6" fill="#222"/>
<text x="305.51" y="172.90" font-size="6.3" text-anchor="start" fill="#2a2a2a" stroke="#2a2a2a" stroke-width="0.15" font-weight="normal" >10</text>
<text x="312.80" y="170.15" font-size="3.9" text-anchor="start" fill="#2a2a2a" stroke="#2a2a2a" stroke-width="0.15" font-weight="normal" >6</text>
<text x="305.51" y="184.00" font-size="6.3" text-anchor="start" fill="#2a2a2a" stroke="#2a2a2a" stroke-width="0.15" font-weight="normal" >10</text>
<text x="312.80" y="181.25" font-size="3.9" text-anchor="start" fill="#2a2a2a" stroke="#2a2a2a" stroke-width="0.15" font-weight="normal" >5</text>
<text x="305.21" y="198.80" font-size="6.3" text-anchor="start" fill="#2a2a2a" stroke="#2a2a2a" stroke-width="0.15" font-weight="normal" >10</text>
<text x="312.50" y="196.05" font-size="3.9" text-anchor="start" fill="#2a2a2a" stroke="#2a2a2a" stroke-width="0.15" font-weight="normal" >4</text>
<text x="312.00" y="212.70" font-size="6.3" text-anchor="start" fill="#2a2a2a" stroke="#2a2a2a" stroke-width="0.15" font-weight="normal" >0</text>
<text x="301.45" y="226.80" font-size="6.3" text-anchor="start" fill="#2a2a2a" stroke="#2a2a2a" stroke-width="0.15" font-weight="normal" >−</text>
<text x="305.01" y="226.80" font-size="6.3" text-anchor="start" fill="#2a2a2a" stroke="#2a2a2a" stroke-width="0.15" font-weight="normal" >10</text>
<text x="312.30" y="224.05" font-size="3.9" text-anchor="start" fill="#2a2a2a" stroke="#2a2a2a" stroke-width="0.15" font-weight="normal" >4</text>
<text x="335.30" y="246.80" font-size="6.3" text-anchor="start" fill="#2a2a2a" stroke="#2a2a2a" stroke-width="0.15" font-weight="normal" >0</text>
<text x="353.71" y="246.80" font-size="6.3" text-anchor="start" fill="#2a2a2a" stroke="#2a2a2a" stroke-width="0.15" font-weight="normal" >10</text>
<text x="361.00" y="244.05" font-size="3.9" text-anchor="start" fill="#2a2a2a" stroke="#2a2a2a" stroke-width="0.15" font-weight="normal" >4</text>
<text x="367.11" y="246.80" font-size="6.3" text-anchor="start" fill="#2a2a2a" stroke="#2a2a2a" stroke-width="0.15" font-weight="normal" >10</text>
<text x="374.40" y="244.05" font-size="3.9" text-anchor="start" fill="#2a2a2a" stroke="#2a2a2a" stroke-width="0.15" font-weight="normal" >5</text>
<text x="380.21" y="246.80" font-size="6.3" text-anchor="start" fill="#2a2a2a" stroke="#2a2a2a" stroke-width="0.15" font-weight="normal" >10</text>
<text x="387.50" y="244.05" font-size="3.9" text-anchor="start" fill="#2a2a2a" stroke="#2a2a2a" stroke-width="0.15" font-weight="normal" >6</text>
<text x="352.40" y="181.40" font-size="6.4" text-anchor="start" fill="#2a2a2a" stroke="#2a2a2a" stroke-width="0.15" font-weight="normal" textLength="34.40" lengthAdjust="spacingAndGlyphs" >CD4 T cells</text>
<text x="352.40" y="189.60" font-size="6.4" text-anchor="start" fill="#2a2a2a" stroke="#2a2a2a" stroke-width="0.15" font-weight="normal" textLength="18.20" lengthAdjust="spacingAndGlyphs" >95.2%</text>
<text x="360.80" y="210.00" font-size="6.4" text-anchor="end" fill="#2a2a2a" stroke="#2a2a2a" stroke-width="0.15" font-weight="normal" textLength="33.20" lengthAdjust="spacingAndGlyphs" >RL Y1503C</text>
<text x="360.80" y="218.00" font-size="6.4" text-anchor="end" fill="#2a2a2a" stroke="#2a2a2a" stroke-width="0.15" font-weight="normal" textLength="18.50" lengthAdjust="spacingAndGlyphs" >4.53%</text>
<text transform="translate(296.60,234.80) rotate(-90)" font-size="9" fill="#1e1e1e" stroke="#1e1e1e" stroke-width="0.15" textLength="47.6" lengthAdjust="spacingAndGlyphs">CellTrace-violet</text>
<line x1="295.40" y1="241.10" x2="295.40" y2="256.20" stroke="#222" stroke-width="1.0" />
<line x1="294.90" y1="256.20" x2="309.90" y2="256.20" stroke="#222" stroke-width="1.0" />
<path d="M295.40,238.40 L293.50,242.60 L297.30,242.60 Z" fill="#222"/>
<path d="M312.70,256.20 L308.50,254.30 L308.50,258.10 Z" fill="#222"/>
<text x="318.50" y="259.20" font-size="8.6" text-anchor="start" fill="#1e1e1e" stroke="#1e1e1e" stroke-width="0.15" font-weight="normal" textLength="52.00" lengthAdjust="spacingAndGlyphs" >CellTrace-FarRed</text>
<path d="M472.00,192.70 C473.50,192.73 475.25,193.45 476.50,194.50 C477.75,195.55 478.83,197.08 479.50,199.00 C480.17,200.92 480.50,203.50 480.50,206.00 C480.50,208.50 480.08,211.50 479.50,214.00 C478.92,216.50 478.17,219.00 477.00,221.00 C475.83,223.00 474.17,224.93 472.50,226.00 C470.83,227.07 468.75,227.48 467.00,227.40 C465.25,227.32 463.33,226.57 462.00,225.50 C460.67,224.43 459.65,222.92 459.00,221.00 C458.35,219.08 458.02,216.50 458.10,214.00 C458.18,211.50 458.68,208.50 459.50,206.00 C460.32,203.50 461.67,200.95 463.00,199.00 C464.33,197.05 466.00,195.35 467.50,194.30 C469.00,193.25 470.50,192.67 472.00,192.70Z" fill="url(#gl2)"/>
<path d="M472.00,192.70 C473.50,192.73 475.25,193.45 476.50,194.50 C477.75,195.55 478.83,197.08 479.50,199.00 C480.17,200.92 480.50,203.50 480.50,206.00 C480.50,208.50 480.08,211.50 479.50,214.00 C478.92,216.50 478.17,219.00 477.00,221.00 C475.83,223.00 474.17,224.93 472.50,226.00 C470.83,227.07 468.75,227.48 467.00,227.40 C465.25,227.32 463.33,226.57 462.00,225.50 C460.67,224.43 459.65,222.92 459.00,221.00 C458.35,219.08 458.02,216.50 458.10,214.00 C458.18,211.50 458.68,208.50 459.50,206.00 C460.32,203.50 461.67,200.95 463.00,199.00 C464.33,197.05 466.00,195.35 467.50,194.30 C469.00,193.25 470.50,192.67 472.00,192.70Z" fill="none" fill-opacity="0" stroke="#111" stroke-opacity="0.9" stroke-width="0.6"/>
<path d="M471.84,194.40 C473.22,194.43 474.83,195.09 475.98,196.06 C477.13,197.03 478.13,198.44 478.74,200.20 C479.35,201.96 479.66,204.34 479.66,206.64 C479.66,208.94 479.28,211.70 478.74,214.00 C478.20,216.30 477.51,218.60 476.44,220.44 C475.37,222.28 473.83,224.06 472.30,225.04 C470.77,226.02 468.85,226.40 467.24,226.33 C465.63,226.25 463.87,225.56 462.64,224.58 C461.41,223.60 460.48,222.20 459.88,220.44 C459.28,218.68 458.98,216.30 459.05,214.00 C459.13,211.70 459.59,208.94 460.34,206.64 C461.09,204.34 462.33,201.99 463.56,200.20 C464.79,198.41 466.32,196.84 467.70,195.88 C469.08,194.91 470.46,194.37 471.84,194.40Z" fill="none" fill-opacity="0" stroke="#222" stroke-opacity="0.55" stroke-width="0.45"/>
<path d="M471.68,196.11 C472.94,196.14 474.41,196.74 475.46,197.62 C476.51,198.50 477.42,199.79 477.98,201.40 C478.54,203.01 478.82,205.18 478.82,207.28 C478.82,209.38 478.47,211.90 477.98,214.00 C477.49,216.10 476.86,218.20 475.88,219.88 C474.90,221.56 473.50,223.18 472.10,224.08 C470.70,224.98 468.95,225.33 467.48,225.26 C466.01,225.19 464.40,224.56 463.28,223.66 C462.16,222.76 461.31,221.49 460.76,219.88 C460.21,218.27 459.93,216.10 460.00,214.00 C460.07,211.90 460.49,209.38 461.18,207.28 C461.87,205.18 463.00,203.04 464.12,201.40 C465.24,199.76 466.64,198.33 467.90,197.45 C469.16,196.57 470.42,196.08 471.68,196.11Z" fill="none" fill-opacity="0" stroke="#222" stroke-opacity="0.55" stroke-width="0.45"/>
<path d="M471.40,199.09 C472.45,199.11 473.68,199.62 474.55,200.35 C475.43,201.08 476.18,202.16 476.65,203.50 C477.12,204.84 477.35,206.65 477.35,208.40 C477.35,210.15 477.06,212.25 476.65,214.00 C476.24,215.75 475.72,217.50 474.90,218.90 C474.08,220.30 472.92,221.65 471.75,222.40 C470.58,223.15 469.12,223.44 467.90,223.38 C466.67,223.32 465.33,222.80 464.40,222.05 C463.47,221.30 462.75,220.24 462.30,218.90 C461.85,217.56 461.61,215.75 461.67,214.00 C461.73,212.25 462.08,210.15 462.65,208.40 C463.22,206.65 464.17,204.87 465.10,203.50 C466.03,202.13 467.20,200.94 468.25,200.21 C469.30,199.48 470.35,199.07 471.40,199.09Z" fill="none" fill-opacity="0" stroke="#222" stroke-opacity="0.55" stroke-width="0.45"/>
<path d="M471.12,202.07 C471.96,202.09 472.94,202.49 473.64,203.08 C474.34,203.67 474.95,204.53 475.32,205.60 C475.69,206.67 475.88,208.12 475.88,209.52 C475.88,210.92 475.65,212.60 475.32,214.00 C474.99,215.40 474.57,216.80 473.92,217.92 C473.27,219.04 472.33,220.12 471.40,220.72 C470.47,221.32 469.30,221.55 468.32,221.50 C467.34,221.46 466.27,221.04 465.52,220.44 C464.77,219.84 464.20,218.99 463.84,217.92 C463.48,216.85 463.29,215.40 463.34,214.00 C463.38,212.60 463.66,210.92 464.12,209.52 C464.58,208.12 465.33,206.69 466.08,205.60 C466.83,204.51 467.76,203.56 468.60,202.97 C469.44,202.38 470.28,202.05 471.12,202.07Z" fill="none" fill-opacity="0" stroke="#222" stroke-opacity="0.55" stroke-width="0.45"/>
<path d="M470.84,205.05 C471.47,205.07 472.21,205.37 472.73,205.81 C473.25,206.25 473.71,206.89 473.99,207.70 C474.27,208.50 474.41,209.59 474.41,210.64 C474.41,211.69 474.24,212.95 473.99,214.00 C473.75,215.05 473.43,216.10 472.94,216.94 C472.45,217.78 471.75,218.59 471.05,219.04 C470.35,219.49 469.48,219.66 468.74,219.63 C468.00,219.59 467.20,219.28 466.64,218.83 C466.08,218.38 465.65,217.75 465.38,216.94 C465.11,216.13 464.97,215.05 465.00,214.00 C465.04,212.95 465.25,211.69 465.59,210.64 C465.93,209.59 466.50,208.52 467.06,207.70 C467.62,206.88 468.32,206.17 468.95,205.73 C469.58,205.28 470.21,205.04 470.84,205.05Z" fill="none" fill-opacity="0" stroke="#222" stroke-opacity="0.55" stroke-width="0.45"/>
<ellipse cx="470" cy="214" rx="1.8" ry="4.2" fill="#f4f4f4" fill-opacity="0.9" transform="rotate(15 470 214)"/>
<path d="M502.00,192.50 C503.08,192.50 504.08,193.33 505.00,194.50 C505.92,195.67 506.90,197.42 507.50,199.50 C508.10,201.58 508.52,204.42 508.60,207.00 C508.68,209.58 508.43,212.58 508.00,215.00 C507.57,217.42 507.00,219.67 506.00,221.50 C505.00,223.33 503.50,225.12 502.00,226.00 C500.50,226.88 498.42,227.30 497.00,226.80 C495.58,226.30 494.27,224.80 493.50,223.00 C492.73,221.20 492.48,218.50 492.40,216.00 C492.32,213.50 492.48,210.67 493.00,208.00 C493.52,205.33 494.58,202.25 495.50,200.00 C496.42,197.75 497.42,195.75 498.50,194.50 C499.58,193.25 500.92,192.50 502.00,192.50Z" fill="url(#gr2)"/>
<path d="M502.00,192.50 C503.08,192.50 504.08,193.33 505.00,194.50 C505.92,195.67 506.90,197.42 507.50,199.50 C508.10,201.58 508.52,204.42 508.60,207.00 C508.68,209.58 508.43,212.58 508.00,215.00 C507.57,217.42 507.00,219.67 506.00,221.50 C505.00,223.33 503.50,225.12 502.00,226.00 C500.50,226.88 498.42,227.30 497.00,226.80 C495.58,226.30 494.27,224.80 493.50,223.00 C492.73,221.20 492.48,218.50 492.40,216.00 C492.32,213.50 492.48,210.67 493.00,208.00 C493.52,205.33 494.58,202.25 495.50,200.00 C496.42,197.75 497.42,195.75 498.50,194.50 C499.58,193.25 500.92,192.50 502.00,192.50Z" fill="none" fill-opacity="0" stroke="#222" stroke-opacity="0.55" stroke-width="0.4"/>
<path d="M501.93,194.00 C502.94,194.00 503.87,194.78 504.72,195.87 C505.57,196.95 506.49,198.58 507.05,200.51 C507.60,202.45 507.99,205.09 508.07,207.49 C508.15,209.89 507.91,212.68 507.51,214.93 C507.11,217.18 506.58,219.27 505.65,220.97 C504.72,222.68 503.32,224.34 501.93,225.16 C500.54,225.98 498.60,226.37 497.28,225.90 C495.96,225.44 494.74,224.04 494.02,222.37 C493.31,220.70 493.08,218.19 493.00,215.86 C492.92,213.54 493.08,210.90 493.56,208.42 C494.04,205.94 495.03,203.07 495.88,200.98 C496.74,198.89 497.67,197.03 498.68,195.87 C499.68,194.70 500.92,194.00 501.93,194.00Z" fill="none" fill-opacity="0" stroke="#222" stroke-opacity="0.55" stroke-width="0.4"/>
<path d="M501.86,195.51 C502.79,195.51 503.65,196.23 504.44,197.23 C505.23,198.23 506.07,199.74 506.59,201.53 C507.11,203.32 507.46,205.76 507.54,207.98 C507.61,210.20 507.39,212.78 507.02,214.86 C506.65,216.94 506.16,218.87 505.30,220.45 C504.44,222.03 503.15,223.56 501.86,224.32 C500.57,225.08 498.78,225.44 497.56,225.01 C496.34,224.58 495.21,223.29 494.55,221.74 C493.89,220.19 493.68,217.87 493.60,215.72 C493.53,213.57 493.68,211.13 494.12,208.84 C494.56,206.55 495.48,203.90 496.27,201.96 C497.06,200.03 497.92,198.31 498.85,197.23 C499.78,196.15 500.93,195.51 501.86,195.51Z" fill="none" fill-opacity="0" stroke="#222" stroke-opacity="0.55" stroke-width="0.4"/>
<path d="M501.79,197.01 C502.65,197.01 503.44,197.67 504.16,198.59 C504.88,199.52 505.66,200.90 506.13,202.54 C506.61,204.19 506.94,206.43 507.00,208.47 C507.07,210.51 506.87,212.88 506.53,214.79 C506.19,216.70 505.74,218.48 504.95,219.93 C504.16,221.37 502.98,222.78 501.79,223.48 C500.61,224.18 498.96,224.51 497.84,224.11 C496.72,223.72 495.68,222.53 495.07,221.11 C494.47,219.69 494.27,217.56 494.21,215.58 C494.14,213.61 494.27,211.37 494.68,209.26 C495.09,207.15 495.93,204.72 496.65,202.94 C497.38,201.16 498.17,199.58 499.02,198.59 C499.88,197.61 500.93,197.01 501.79,197.01Z" fill="none" fill-opacity="0" stroke="#222" stroke-opacity="0.55" stroke-width="0.4"/>
<path d="M501.60,201.10 C502.25,201.10 502.85,201.60 503.40,202.30 C503.95,203.00 504.54,204.05 504.90,205.30 C505.26,206.55 505.51,208.25 505.56,209.80 C505.61,211.35 505.46,213.15 505.20,214.60 C504.94,216.05 504.60,217.40 504.00,218.50 C503.40,219.60 502.50,220.67 501.60,221.20 C500.70,221.73 499.45,221.98 498.60,221.68 C497.75,221.38 496.96,220.48 496.50,219.40 C496.04,218.32 495.89,216.70 495.84,215.20 C495.79,213.70 495.89,212.00 496.20,210.40 C496.51,208.80 497.15,206.95 497.70,205.60 C498.25,204.25 498.85,203.05 499.50,202.30 C500.15,201.55 500.95,201.10 501.60,201.10Z" fill="none" fill-opacity="0" stroke="#222" stroke-opacity="0.55" stroke-width="0.4"/>
<path d="M501.45,204.32 C501.94,204.32 502.39,204.70 502.80,205.22 C503.21,205.75 503.66,206.54 503.93,207.47 C504.19,208.41 504.38,209.69 504.42,210.85 C504.46,212.01 504.34,213.36 504.15,214.45 C503.95,215.54 503.70,216.55 503.25,217.38 C502.80,218.20 502.12,219.00 501.45,219.40 C500.77,219.80 499.84,219.98 499.20,219.76 C498.56,219.53 497.97,218.86 497.62,218.05 C497.28,217.24 497.17,216.03 497.13,214.90 C497.09,213.78 497.17,212.50 497.40,211.30 C497.63,210.10 498.11,208.71 498.52,207.70 C498.94,206.69 499.39,205.79 499.88,205.22 C500.36,204.66 500.96,204.32 501.45,204.32Z" fill="none" fill-opacity="0" stroke="#222" stroke-opacity="0.55" stroke-width="0.4"/>
<ellipse cx="501" cy="213.5" rx="1.3" ry="4.5" fill="#e8e8e8" fill-opacity="0.8" transform="rotate(12 501 213.5)"/>
<line x1="442.00" y1="183.60" x2="512.30" y2="183.60" stroke="#222" stroke-width="1.0" />
<line x1="484.60" y1="183.60" x2="484.60" y2="232.10" stroke="#222" stroke-width="1.1" />
<line x1="442.00" y1="232.10" x2="512.30" y2="232.10" stroke="#444" stroke-width="0.9" />
<rect x="442.0" y="164.00" width="70.30" height="70.80" fill="none" stroke="#3a3a3a" stroke-width="1.2"/>
<line x1="440.40" y1="165.50" x2="442.00" y2="165.50" stroke="#555" stroke-width="0.5" />
<line x1="440.40" y1="169.60" x2="442.00" y2="169.60" stroke="#555" stroke-width="0.5" />
<line x1="440.40" y1="173.70" x2="442.00" y2="173.70" stroke="#555" stroke-width="0.5" />
<line x1="440.40" y1="177.80" x2="442.00" y2="177.80" stroke="#555" stroke-width="0.5" />
<line x1="440.40" y1="181.90" x2="442.00" y2="181.90" stroke="#555" stroke-width="0.5" />
<line x1="440.40" y1="186.00" x2="442.00" y2="186.00" stroke="#555" stroke-width="0.5" />
<line x1="440.40" y1="190.10" x2="442.00" y2="190.10" stroke="#555" stroke-width="0.5" />
<line x1="440.40" y1="194.20" x2="442.00" y2="194.20" stroke="#555" stroke-width="0.5" />
<line x1="440.40" y1="198.30" x2="442.00" y2="198.30" stroke="#555" stroke-width="0.5" />
<line x1="440.40" y1="202.40" x2="442.00" y2="202.40" stroke="#555" stroke-width="0.5" />
<line x1="440.40" y1="206.50" x2="442.00" y2="206.50" stroke="#555" stroke-width="0.5" />
<line x1="440.40" y1="210.60" x2="442.00" y2="210.60" stroke="#555" stroke-width="0.5" />
<line x1="440.40" y1="214.70" x2="442.00" y2="214.70" stroke="#555" stroke-width="0.5" />
<line x1="440.40" y1="218.80" x2="442.00" y2="218.80" stroke="#555" stroke-width="0.5" />
<line x1="440.40" y1="222.90" x2="442.00" y2="222.90" stroke="#555" stroke-width="0.5" />
<line x1="440.40" y1="227.00" x2="442.00" y2="227.00" stroke="#555" stroke-width="0.5" />
<line x1="440.40" y1="231.10" x2="442.00" y2="231.10" stroke="#555" stroke-width="0.5" />
<line x1="440.40" y1="235.20" x2="442.00" y2="235.20" stroke="#555" stroke-width="0.5" />
<line x1="444.00" y1="234.80" x2="444.00" y2="236.40" stroke="#555" stroke-width="0.5" />
<line x1="448.20" y1="234.80" x2="448.20" y2="236.40" stroke="#555" stroke-width="0.5" />
<line x1="452.40" y1="234.80" x2="452.40" y2="236.40" stroke="#555" stroke-width="0.5" />
<line x1="456.60" y1="234.80" x2="456.60" y2="236.40" stroke="#555" stroke-width="0.5" />
<line x1="460.80" y1="234.80" x2="460.80" y2="236.40" stroke="#555" stroke-width="0.5" />
<line x1="465.00" y1="234.80" x2="465.00" y2="236.40" stroke="#555" stroke-width="0.5" />
<line x1="469.20" y1="234.80" x2="469.20" y2="236.40" stroke="#555" stroke-width="0.5" />
<line x1="473.40" y1="234.80" x2="473.40" y2="236.40" stroke="#555" stroke-width="0.5" />
<line x1="477.60" y1="234.80" x2="477.60" y2="236.40" stroke="#555" stroke-width="0.5" />
<line x1="481.80" y1="234.80" x2="481.80" y2="236.40" stroke="#555" stroke-width="0.5" />
<line x1="486.00" y1="234.80" x2="486.00" y2="236.40" stroke="#555" stroke-width="0.5" />
<line x1="490.20" y1="234.80" x2="490.20" y2="236.40" stroke="#555" stroke-width="0.5" />
<line x1="494.40" y1="234.80" x2="494.40" y2="236.40" stroke="#555" stroke-width="0.5" />
<line x1="498.60" y1="234.80" x2="498.60" y2="236.40" stroke="#555" stroke-width="0.5" />
<line x1="502.80" y1="234.80" x2="502.80" y2="236.40" stroke="#555" stroke-width="0.5" />
<line x1="507.00" y1="234.80" x2="507.00" y2="236.40" stroke="#555" stroke-width="0.5" />
<line x1="511.20" y1="234.80" x2="511.20" y2="236.40" stroke="#555" stroke-width="0.5" />
<path d="M466.5,234.80 L469.5,234.80 L468,237.30 Z" fill="#111"/>
<text x="435.00" y="169.70" font-size="6.3" text-anchor="end" fill="#2a2a2a" stroke="#2a2a2a" stroke-width="0.15" font-weight="normal" textLength="17.60" lengthAdjust="spacingAndGlyphs" >4.0 M</text>
<line x1="438.40" y1="167.50" x2="442.00" y2="167.50" stroke="#333" stroke-width="0.8" />
<text x="435.00" y="186.10" font-size="6.3" text-anchor="end" fill="#2a2a2a" stroke="#2a2a2a" stroke-width="0.15" font-weight="normal" textLength="17.60" lengthAdjust="spacingAndGlyphs" >3.0 M</text>
<line x1="438.40" y1="183.80" x2="442.00" y2="183.80" stroke="#333" stroke-width="0.8" />
<text x="435.00" y="203.20" font-size="6.3" text-anchor="end" fill="#2a2a2a" stroke="#2a2a2a" stroke-width="0.15" font-weight="normal" textLength="17.60" lengthAdjust="spacingAndGlyphs" >2.0 M</text>
<line x1="438.40" y1="201.00" x2="442.00" y2="201.00" stroke="#333" stroke-width="0.8" />
<text x="435.00" y="220.00" font-size="6.3" text-anchor="end" fill="#2a2a2a" stroke="#2a2a2a" stroke-width="0.15" font-weight="normal" textLength="17.60" lengthAdjust="spacingAndGlyphs" >1.0 M</text>
<line x1="438.40" y1="217.80" x2="442.00" y2="217.80" stroke="#333" stroke-width="0.8" />
<text x="431.34" y="236.70" font-size="6.3" text-anchor="start" fill="#2a2a2a" stroke="#2a2a2a" stroke-width="0.15" font-weight="normal" >0</text>
<line x1="438.40" y1="234.60" x2="442.00" y2="234.60" stroke="#333" stroke-width="0.8" />
<text x="433.55" y="247.20" font-size="6.3" text-anchor="start" fill="#2a2a2a" stroke="#2a2a2a" stroke-width="0.15" font-weight="normal" >−</text>
<text x="437.11" y="247.20" font-size="6.3" text-anchor="start" fill="#2a2a2a" stroke="#2a2a2a" stroke-width="0.15" font-weight="normal" >10</text>
<text x="444.40" y="244.45" font-size="3.9" text-anchor="start" fill="#2a2a2a" stroke="#2a2a2a" stroke-width="0.15" font-weight="normal" >5</text>
<text x="449.75" y="247.20" font-size="6.3" text-anchor="start" fill="#2a2a2a" stroke="#2a2a2a" stroke-width="0.15" font-weight="normal" >−</text>
<text x="453.31" y="247.20" font-size="6.3" text-anchor="start" fill="#2a2a2a" stroke="#2a2a2a" stroke-width="0.15" font-weight="normal" >10</text>
<text x="460.60" y="244.45" font-size="3.9" text-anchor="start" fill="#2a2a2a" stroke="#2a2a2a" stroke-width="0.15" font-weight="normal" >4</text>
<text x="466.54" y="247.20" font-size="6.3" text-anchor="start" fill="#2a2a2a" stroke="#2a2a2a" stroke-width="0.15" font-weight="normal" >0</text>
<text x="476.21" y="247.20" font-size="6.3" text-anchor="start" fill="#2a2a2a" stroke="#2a2a2a" stroke-width="0.15" font-weight="normal" >10</text>
<text x="483.50" y="244.45" font-size="3.9" text-anchor="start" fill="#2a2a2a" stroke="#2a2a2a" stroke-width="0.15" font-weight="normal" >4</text>
<text x="489.91" y="247.20" font-size="6.3" text-anchor="start" fill="#2a2a2a" stroke="#2a2a2a" stroke-width="0.15" font-weight="normal" >10</text>
<text x="497.20" y="244.45" font-size="3.9" text-anchor="start" fill="#2a2a2a" stroke="#2a2a2a" stroke-width="0.15" font-weight="normal" >5</text>
<text x="500.71" y="247.20" font-size="6.3" text-anchor="start" fill="#2a2a2a" stroke="#2a2a2a" stroke-width="0.15" font-weight="normal" >10</text>
<text x="508.00" y="244.45" font-size="3.9" text-anchor="start" fill="#2a2a2a" stroke="#2a2a2a" stroke-width="0.15" font-weight="normal" >6</text>
<text x="452.50" y="173.30" font-size="6.4" text-anchor="start" fill="#2a2a2a" stroke="#2a2a2a" stroke-width="0.15" font-weight="normal" textLength="20.90" lengthAdjust="spacingAndGlyphs" >CD40–</text>
<text x="452.50" y="181.00" font-size="6.4" text-anchor="start" fill="#2a2a2a" stroke="#2a2a2a" stroke-width="0.15" font-weight="normal" textLength="19.10" lengthAdjust="spacingAndGlyphs" >65.6%</text>
<text x="489.00" y="173.30" font-size="6.4" text-anchor="start" fill="#2a2a2a" stroke="#2a2a2a" stroke-width="0.15" font-weight="normal" textLength="20.00" lengthAdjust="spacingAndGlyphs" >CD40+</text>
<text x="489.00" y="181.00" font-size="6.4" text-anchor="start" fill="#2a2a2a" stroke="#2a2a2a" stroke-width="0.15" font-weight="normal" textLength="18.80" lengthAdjust="spacingAndGlyphs" >34.4%</text>
<text transform="translate(414.6,235.60) rotate(-90)" font-size="9.2" fill="#1e1e1e" stroke="#1e1e1e" stroke-width="0.15" textLength="18" lengthAdjust="spacingAndGlyphs">SSC-A</text>
<line x1="410.90" y1="243.10" x2="410.90" y2="256.20" stroke="#222" stroke-width="1.0" />
<line x1="410.40" y1="256.20" x2="425.10" y2="256.20" stroke="#222" stroke-width="1.0" />
<path d="M410.90,240.40 L409.00,244.60 L412.80,244.60 Z" fill="#222"/>
<path d="M427.90,256.20 L423.70,254.30 L423.70,258.10 Z" fill="#222"/>
<text x="433.80" y="259.20" font-size="8.6" text-anchor="start" fill="#1e1e1e" stroke="#1e1e1e" stroke-width="0.15" font-weight="normal" textLength="40.80" lengthAdjust="spacingAndGlyphs" >BV711-CD40</text>
<text x="351.1" y="278.8" font-size="12.9" font-weight="bold" fill="#111" stroke="#111" stroke-width="0.12">I</text>
<line x1="403.00" y1="279.60" x2="403.00" y2="364.40" stroke="#333" stroke-width="1.3" />
<line x1="402.40" y1="363.80" x2="458.40" y2="363.80" stroke="#333" stroke-width="1.3" />
<line x1="399.70" y1="363.80" x2="403.00" y2="363.80" stroke="#333" stroke-width="1.1" />
<text x="396.60" y="366.20" font-size="6.8" text-anchor="end" fill="#333" stroke="#333" stroke-width="0.15" font-weight="normal" textLength="8.60" lengthAdjust="spacingAndGlyphs" >0.0</text>
<line x1="399.70" y1="336.25" x2="403.00" y2="336.25" stroke="#333" stroke-width="1.1" />
<text x="396.60" y="338.65" font-size="6.8" text-anchor="end" fill="#333" stroke="#333" stroke-width="0.15" font-weight="normal" textLength="8.60" lengthAdjust="spacingAndGlyphs" >0.5</text>
<line x1="399.70" y1="308.70" x2="403.00" y2="308.70" stroke="#333" stroke-width="1.1" />
<text x="396.60" y="311.10" font-size="6.8" text-anchor="end" fill="#333" stroke="#333" stroke-width="0.15" font-weight="normal" textLength="8.60" lengthAdjust="spacingAndGlyphs" >1.0</text>
<line x1="399.70" y1="281.15" x2="403.00" y2="281.15" stroke="#333" stroke-width="1.1" />
<text x="396.60" y="283.55" font-size="6.8" text-anchor="end" fill="#333" stroke="#333" stroke-width="0.15" font-weight="normal" textLength="8.60" lengthAdjust="spacingAndGlyphs" >1.5</text>
<line x1="418.60" y1="363.80" x2="418.60" y2="366.80" stroke="#333" stroke-width="1.1" />
<text x="418.90" y="375.60" font-size="6.8" text-anchor="middle" fill="#222" stroke="#222" stroke-width="0.15" font-weight="normal" textLength="17.90" lengthAdjust="spacingAndGlyphs" >Day 0</text>
<line x1="442.10" y1="363.80" x2="442.10" y2="366.80" stroke="#333" stroke-width="1.1" />
<text x="442.40" y="375.60" font-size="6.8" text-anchor="middle" fill="#222" stroke="#222" stroke-width="0.15" font-weight="normal" textLength="17.90" lengthAdjust="spacingAndGlyphs" >Day 2</text>
<line x1="418.90" y1="293.93" x2="442.20" y2="327.05" stroke="#222" stroke-width="1.0" />
<line x1="418.90" y1="303.41" x2="442.20" y2="335.59" stroke="#222" stroke-width="1.0" />
<line x1="418.90" y1="311.51" x2="442.20" y2="341.37" stroke="#222" stroke-width="1.0" />
<circle cx="418.9" cy="293.93" r="2.2" fill="#2a4f7e"/>
<circle cx="418.9" cy="303.41" r="2.2" fill="#2a4f7e"/>
<circle cx="418.9" cy="311.51" r="2.2" fill="#2a4f7e"/>
<circle cx="442.2" cy="327.05" r="2.2" fill="#c41e3a"/>
<circle cx="442.2" cy="335.59" r="2.2" fill="#c41e3a"/>
<circle cx="442.2" cy="341.37" r="2.2" fill="#c41e3a"/>
<text x="430.30" y="281.60" font-size="7.0" text-anchor="middle" fill="#333" stroke="#333" stroke-width="0.15" font-weight="normal" textLength="24.50" lengthAdjust="spacingAndGlyphs" ><tspan font-style="italic">P</tspan> = .001</text>
<line x1="418.30" y1="284.60" x2="442.80" y2="284.60" stroke="#444" stroke-width="0.9" />
<text transform="translate(371.2,354.0) rotate(-90)" font-size="8.2" fill="#333" stroke="#333" stroke-width="0.15" textLength="66.4" lengthAdjust="spacingAndGlyphs">Ratio of CD40-WT to</text>
<text transform="translate(381.9,354.0) rotate(-90)" font-size="8.2" fill="#333" stroke="#333" stroke-width="0.15" textLength="66.4" lengthAdjust="spacingAndGlyphs">CD40-KO tumor cells</text>
<rect x="0.6" y="0.6" width="518.8" height="383.8" fill="none" stroke="#505050" stroke-width="1.2"/>
</svg>
</body></html>
